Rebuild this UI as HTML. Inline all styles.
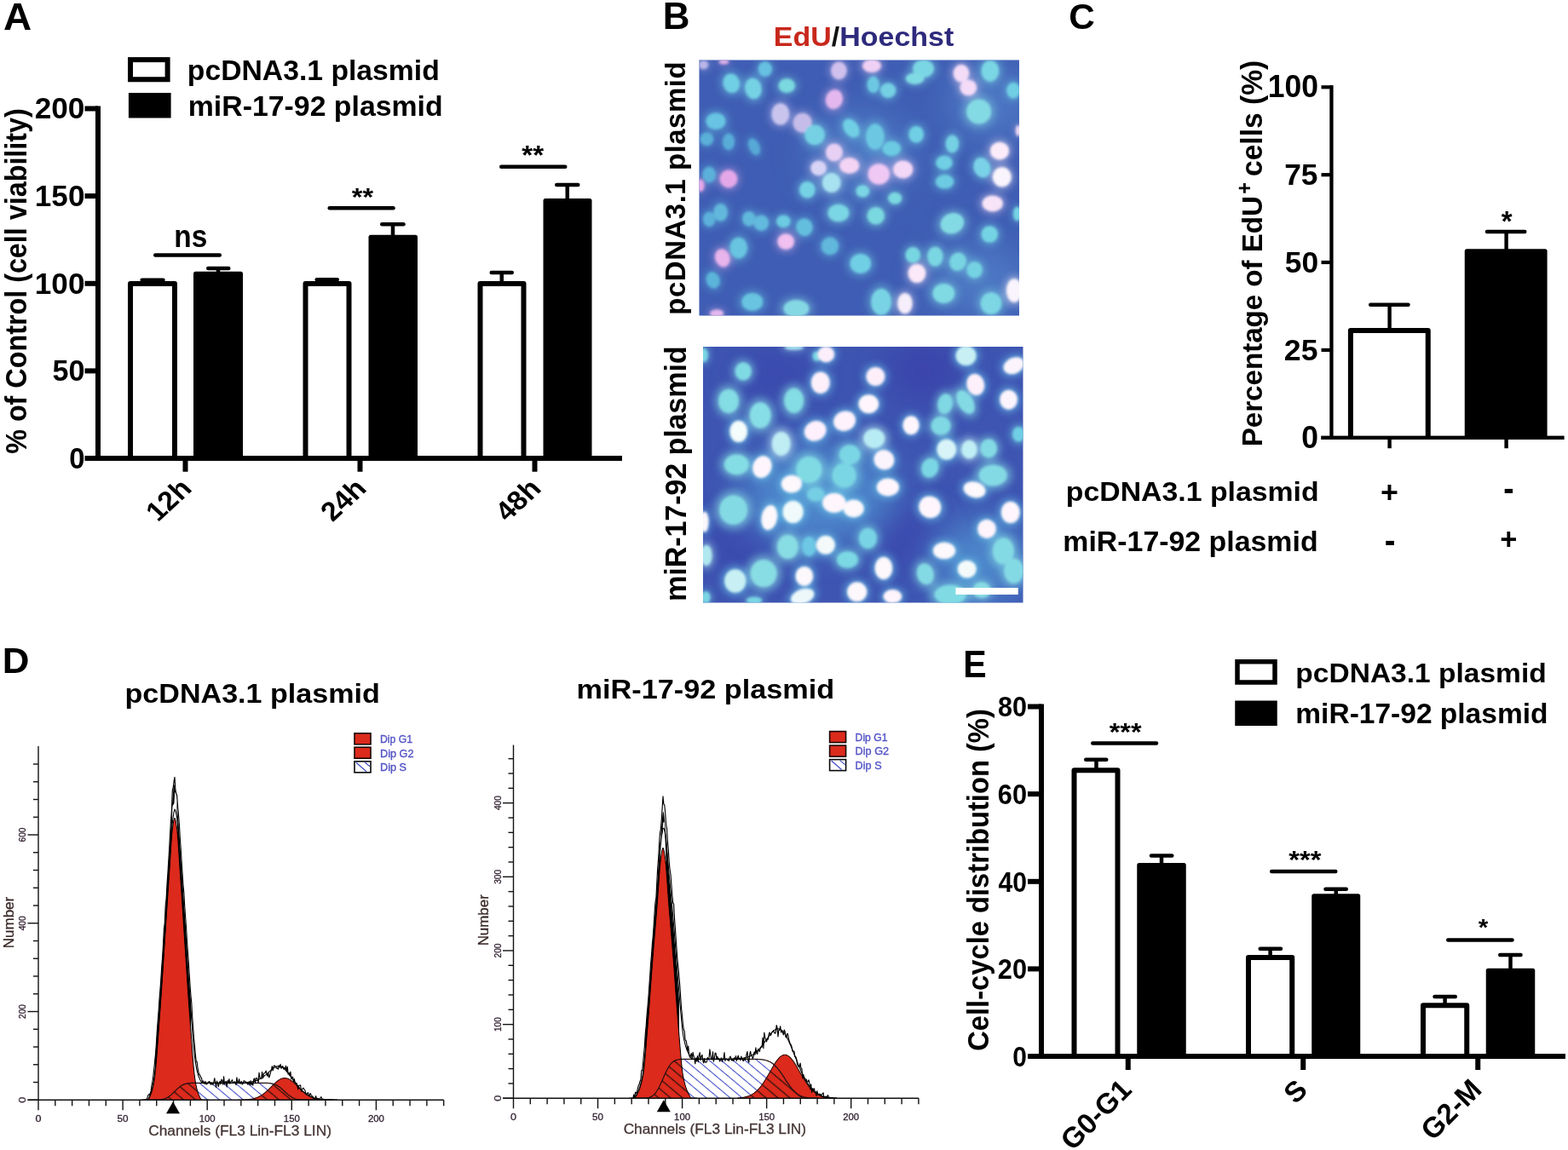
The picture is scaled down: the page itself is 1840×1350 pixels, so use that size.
<!DOCTYPE html>
<html lang="en">
<head>
<meta charset="utf-8">
<title>miR-17-92 plasmid promotes cell viability and proliferation</title>
<style>
html,body{margin:0;padding:0;background:#fff;}
body{width:1840px;height:1350px;overflow:hidden;font-family:"Liberation Sans", sans-serif;}
svg{display:block;}
text{white-space:pre;}
</style>
</head>
<body>
<svg width="1840" height="1350" viewBox="0 0 1840 1350">
<rect x="0" y="0" width="1840" height="1350" fill="#fff"/>
<defs>
<filter id="bl1" x="-50%" y="-50%" width="200%" height="200%"><feGaussianBlur stdDeviation="1.6"/></filter>
<filter id="bl2" x="-50%" y="-50%" width="200%" height="200%"><feGaussianBlur stdDeviation="5"/></filter>
<filter id="bl3" x="-50%" y="-50%" width="200%" height="200%"><feGaussianBlur stdDeviation="22"/></filter>
<clipPath id="cp1"><rect x="820.5" y="70.5" width="375.5" height="300"/></clipPath>
<clipPath id="cp2"><rect x="825" y="407" width="375.5" height="300.5"/></clipPath>
<clipPath id="cS1"><path d="M170.0,1291.2 L170.0,1291.2 L171.0,1291.2 L172.0,1291.2 L173.0,1291.2 L174.0,1291.2 L175.0,1291.2 L176.0,1291.2 L177.0,1291.2 L178.0,1291.2 L179.0,1291.2 L180.0,1291.2 L181.0,1291.2 L182.0,1291.2 L183.0,1291.2 L184.0,1291.2 L185.0,1291.1 L186.0,1291.1 L187.0,1291.0 L188.0,1290.9 L189.0,1290.8 L190.0,1290.6 L191.0,1290.4 L192.0,1290.2 L193.0,1289.9 L194.0,1289.6 L195.0,1289.1 L196.0,1288.6 L197.0,1288.1 L198.0,1287.4 L199.0,1286.7 L200.0,1285.9 L201.0,1285.1 L202.0,1284.2 L203.0,1283.2 L204.0,1282.2 L205.0,1281.2 L206.0,1280.3 L207.0,1279.3 L208.0,1278.3 L209.0,1277.4 L210.0,1276.6 L211.0,1275.8 L212.0,1275.1 L213.0,1274.4 L214.0,1273.9 L215.0,1273.4 L216.0,1272.9 L217.0,1272.6 L218.0,1272.3 L219.0,1272.1 L220.0,1271.9 L221.0,1271.7 L222.0,1271.6 L223.0,1271.5 L224.0,1271.4 L225.0,1271.4 L226.0,1271.3 L227.0,1271.3 L228.0,1271.3 L229.0,1271.3 L230.0,1271.3 L231.0,1271.3 L232.0,1271.3 L233.0,1271.3 L234.0,1271.3 L235.0,1271.3 L236.0,1271.3 L237.0,1271.3 L238.0,1271.3 L239.0,1271.3 L240.0,1271.3 L241.0,1271.3 L242.0,1271.3 L243.0,1271.3 L244.0,1271.3 L245.0,1271.3 L246.0,1271.3 L247.0,1271.3 L248.0,1271.3 L249.0,1271.3 L250.0,1271.3 L251.0,1271.3 L252.0,1271.3 L253.0,1271.3 L254.0,1271.3 L255.0,1271.3 L256.0,1271.3 L257.0,1271.3 L258.0,1271.3 L259.0,1271.3 L260.0,1271.3 L261.0,1271.3 L262.0,1271.3 L263.0,1271.3 L264.0,1271.3 L265.0,1271.3 L266.0,1271.3 L267.0,1271.3 L268.0,1271.2 L269.0,1271.3 L270.0,1271.3 L271.0,1271.3 L272.0,1271.3 L273.0,1271.3 L274.0,1271.3 L275.0,1271.3 L276.0,1271.3 L277.0,1271.3 L278.0,1271.3 L279.0,1271.3 L280.0,1271.3 L281.0,1271.3 L282.0,1271.3 L283.0,1271.3 L284.0,1271.3 L285.0,1271.3 L286.0,1271.3 L287.0,1271.3 L288.0,1271.3 L289.0,1271.3 L290.0,1271.3 L291.0,1271.3 L292.0,1271.3 L293.0,1271.3 L294.0,1271.3 L295.0,1271.3 L296.0,1271.3 L297.0,1271.3 L298.0,1271.3 L299.0,1271.3 L300.0,1271.3 L301.0,1271.3 L302.0,1271.3 L303.0,1271.3 L304.0,1271.3 L305.0,1271.3 L306.0,1271.3 L307.0,1271.3 L308.0,1271.3 L309.0,1271.3 L310.0,1271.3 L311.0,1271.3 L312.0,1271.3 L313.0,1271.4 L314.0,1271.4 L315.0,1271.5 L316.0,1271.6 L317.0,1271.7 L318.0,1271.8 L319.0,1272.0 L320.0,1272.2 L321.0,1272.5 L322.0,1272.8 L323.0,1273.2 L324.0,1273.6 L325.0,1274.1 L326.0,1274.7 L327.0,1275.4 L328.0,1276.1 L329.0,1276.8 L330.0,1277.6 L331.0,1278.5 L332.0,1279.4 L333.0,1280.3 L334.0,1281.2 L335.0,1282.2 L336.0,1283.1 L337.0,1284.0 L338.0,1284.9 L339.0,1285.7 L340.0,1286.4 L341.0,1287.1 L342.0,1287.8 L343.0,1288.4 L344.0,1288.9 L345.0,1289.3 L346.0,1289.7 L347.0,1290.0 L348.0,1290.3 L349.0,1290.5 L350.0,1290.7 L351.0,1290.8 L352.0,1290.9 L353.0,1291.0 L354.0,1291.1 L355.0,1291.1 L356.0,1291.2 L357.0,1291.2 L358.0,1291.2 L359.0,1291.2 L360.0,1291.2 L361.0,1291.2 L362.0,1291.2 L363.0,1291.2 L364.0,1291.2 L365.0,1291.2 L366.0,1291.2 L367.0,1291.2 L368.0,1291.2 L369.0,1291.2 L370.0,1291.2 L371.0,1291.2 L372.0,1291.2 L373.0,1291.2 L374.0,1291.2 L374.0,1291.2 Z"/></clipPath>
<clipPath id="cR1"><path d="M165.0,1291.2 L165.0,1291.2 L166.0,1291.2 L167.0,1291.2 L168.0,1291.2 L169.0,1291.2 L170.0,1291.2 L171.0,1291.2 L172.0,1291.2 L173.0,1291.2 L174.0,1290.7 L175.0,1289.1 L176.0,1287.0 L177.0,1284.6 L178.0,1281.9 L179.0,1278.2 L180.0,1273.7 L181.0,1268.1 L182.0,1260.5 L183.0,1250.5 L184.0,1238.5 L185.0,1225.3 L186.0,1211.5 L187.0,1197.5 L188.0,1184.0 L189.0,1170.0 L190.0,1155.3 L191.0,1140.2 L192.0,1124.8 L193.0,1109.4 L194.0,1094.1 L195.0,1079.0 L196.0,1063.8 L197.0,1048.6 L198.0,1033.7 L199.0,1019.0 L200.0,1003.2 L201.0,988.1 L202.0,976.0 L203.0,968.4 L204.0,962.7 L205.0,960.2 L206.0,962.7 L207.0,968.4 L208.0,976.0 L209.0,988.1 L210.0,1003.2 L211.0,1019.0 L212.0,1033.7 L213.0,1048.6 L214.0,1063.8 L215.0,1079.0 L216.0,1094.1 L217.0,1109.4 L218.0,1124.8 L219.0,1140.2 L220.0,1155.3 L221.0,1170.0 L222.0,1184.0 L223.0,1197.5 L224.0,1211.5 L225.0,1225.3 L226.0,1238.5 L227.0,1250.5 L228.0,1260.5 L229.0,1268.1 L230.0,1273.7 L231.0,1278.2 L232.0,1281.9 L233.0,1284.6 L234.0,1287.0 L235.0,1289.1 L236.0,1290.7 L237.0,1291.2 L238.0,1291.2 L239.0,1291.2 L240.0,1291.2 L241.0,1291.2 L242.0,1291.2 L243.0,1291.2 L244.0,1291.2 L245.0,1291.2 L245.0,1291.2 Z"/><path d="M279.0,1291.2 L279.0,1291.2 L280.0,1291.2 L281.0,1291.2 L282.0,1291.2 L283.0,1291.1 L284.0,1291.1 L285.0,1291.1 L286.0,1291.0 L287.0,1291.0 L288.0,1290.9 L289.0,1290.9 L290.0,1290.8 L291.0,1290.7 L292.0,1290.6 L293.0,1290.5 L294.0,1290.3 L295.0,1290.2 L296.0,1290.0 L297.0,1289.8 L298.0,1289.5 L299.0,1289.2 L300.0,1288.9 L301.0,1288.6 L302.0,1288.2 L303.0,1287.8 L304.0,1287.3 L305.0,1286.8 L306.0,1286.2 L307.0,1285.6 L308.0,1284.9 L309.0,1284.2 L310.0,1283.5 L311.0,1282.7 L312.0,1281.8 L313.0,1281.0 L314.0,1280.0 L315.0,1279.1 L316.0,1278.1 L317.0,1277.1 L318.0,1276.1 L319.0,1275.1 L320.0,1274.1 L321.0,1273.1 L322.0,1272.2 L323.0,1271.2 L324.0,1270.3 L325.0,1269.5 L326.0,1268.7 L327.0,1268.0 L328.0,1267.4 L329.0,1266.8 L330.0,1266.3 L331.0,1266.0 L332.0,1265.7 L333.0,1265.6 L334.0,1265.5 L335.0,1265.6 L336.0,1265.7 L337.0,1266.0 L338.0,1266.3 L339.0,1266.8 L340.0,1267.4 L341.0,1268.0 L342.0,1268.7 L343.0,1269.5 L344.0,1270.3 L345.0,1271.2 L346.0,1272.2 L347.0,1273.1 L348.0,1274.1 L349.0,1275.1 L350.0,1276.1 L351.0,1277.1 L352.0,1278.1 L353.0,1279.1 L354.0,1280.0 L355.0,1281.0 L356.0,1281.8 L357.0,1282.7 L358.0,1283.5 L359.0,1284.2 L360.0,1284.9 L361.0,1285.6 L362.0,1286.2 L363.0,1286.8 L364.0,1287.3 L365.0,1287.8 L366.0,1288.2 L367.0,1288.6 L368.0,1288.9 L369.0,1289.2 L370.0,1289.5 L371.0,1289.8 L372.0,1290.0 L373.0,1290.2 L374.0,1290.3 L375.0,1290.5 L376.0,1290.6 L377.0,1290.7 L378.0,1290.8 L379.0,1290.9 L380.0,1290.9 L381.0,1291.0 L382.0,1291.0 L383.0,1291.1 L384.0,1291.1 L385.0,1291.1 L386.0,1291.2 L387.0,1291.2 L388.0,1291.2 L389.0,1291.2 L389.0,1291.2 Z"/></clipPath>
<pattern id="hb1" width="9" height="9" patternUnits="userSpaceOnUse" patternTransform="rotate(40)"><line x1="0" y1="4.5" x2="9" y2="4.5" stroke="#4450c8" stroke-width="1.1"/></pattern>
<pattern id="hk1" width="9" height="9" patternUnits="userSpaceOnUse" patternTransform="rotate(40)"><line x1="0" y1="4.5" x2="9" y2="4.5" stroke="#30100c" stroke-width="1.3"/></pattern>
<clipPath id="cE1"><rect x="160" y="876" width="64.0" height="372.2"/></clipPath>
<clipPath id="cS2"><path d="M743.0,1289.2 L743.0,1289.2 L744.0,1289.2 L745.0,1289.2 L746.0,1289.2 L747.0,1289.2 L748.0,1289.2 L749.0,1289.2 L750.0,1289.2 L751.0,1289.2 L752.0,1289.2 L753.0,1289.2 L754.0,1289.2 L755.0,1289.2 L756.0,1289.1 L757.0,1289.1 L758.0,1289.0 L759.0,1288.8 L760.0,1288.7 L761.0,1288.5 L762.0,1288.2 L763.0,1287.9 L764.0,1287.4 L765.0,1286.9 L766.0,1286.2 L767.0,1285.4 L768.0,1284.4 L769.0,1283.3 L770.0,1282.0 L771.0,1280.5 L772.0,1278.8 L773.0,1277.0 L774.0,1275.1 L775.0,1273.0 L776.0,1270.8 L777.0,1268.5 L778.0,1266.2 L779.0,1264.0 L780.0,1261.7 L781.0,1259.5 L782.0,1257.4 L783.0,1255.5 L784.0,1253.7 L785.0,1252.0 L786.0,1250.5 L787.0,1249.2 L788.0,1248.1 L789.0,1247.1 L790.0,1246.3 L791.0,1245.6 L792.0,1245.1 L793.0,1244.6 L794.0,1244.3 L795.0,1244.0 L796.0,1243.8 L797.0,1243.7 L798.0,1243.5 L799.0,1243.4 L800.0,1243.4 L801.0,1243.3 L802.0,1243.3 L803.0,1243.3 L804.0,1243.3 L805.0,1243.3 L806.0,1243.3 L807.0,1243.3 L808.0,1243.3 L809.0,1243.3 L810.0,1243.3 L811.0,1243.3 L812.0,1243.3 L813.0,1243.3 L814.0,1243.3 L815.0,1243.3 L816.0,1243.3 L817.0,1243.3 L818.0,1243.3 L819.0,1243.3 L820.0,1243.3 L821.0,1243.3 L822.0,1243.3 L823.0,1243.3 L824.0,1243.3 L825.0,1243.3 L826.0,1243.3 L827.0,1243.3 L828.0,1243.3 L829.0,1243.3 L830.0,1243.3 L831.0,1243.3 L832.0,1243.3 L833.0,1243.3 L834.0,1243.3 L835.0,1243.3 L836.0,1243.3 L837.0,1243.3 L838.0,1243.3 L839.0,1243.3 L840.0,1243.3 L841.0,1243.3 L842.0,1243.3 L843.0,1243.3 L844.0,1243.3 L845.0,1243.3 L846.0,1243.3 L847.0,1243.3 L848.0,1243.3 L849.0,1243.3 L850.0,1243.3 L851.0,1243.3 L852.0,1243.3 L853.0,1243.3 L854.0,1243.3 L855.0,1243.3 L856.0,1243.3 L857.0,1243.3 L858.0,1243.3 L859.0,1243.3 L860.0,1243.3 L861.0,1243.3 L862.0,1243.3 L863.0,1243.3 L864.0,1243.3 L865.0,1243.3 L866.0,1243.3 L867.0,1243.3 L868.0,1243.3 L869.0,1243.3 L870.0,1243.3 L871.0,1243.3 L872.0,1243.3 L873.0,1243.3 L874.0,1243.3 L875.0,1243.3 L876.0,1243.3 L877.0,1243.3 L878.0,1243.3 L879.0,1243.3 L880.0,1243.3 L881.0,1243.3 L882.0,1243.3 L883.0,1243.3 L884.0,1243.3 L885.0,1243.3 L886.0,1243.3 L887.0,1243.4 L888.0,1243.4 L889.0,1243.4 L890.0,1243.5 L891.0,1243.5 L892.0,1243.6 L893.0,1243.7 L894.0,1243.8 L895.0,1243.9 L896.0,1244.1 L897.0,1244.3 L898.0,1244.5 L899.0,1244.8 L900.0,1245.1 L901.0,1245.4 L902.0,1245.9 L903.0,1246.3 L904.0,1246.8 L905.0,1247.4 L906.0,1248.1 L907.0,1248.8 L908.0,1249.7 L909.0,1250.5 L910.0,1251.5 L911.0,1252.6 L912.0,1253.7 L913.0,1254.9 L914.0,1256.1 L915.0,1257.4 L916.0,1258.8 L917.0,1260.2 L918.0,1261.7 L919.0,1263.2 L920.0,1264.7 L921.0,1266.2 L922.0,1267.8 L923.0,1269.3 L924.0,1270.8 L925.0,1272.3 L926.0,1273.7 L927.0,1275.1 L928.0,1276.4 L929.0,1277.6 L930.0,1278.8 L931.0,1279.9 L932.0,1281.0 L933.0,1282.0 L934.0,1282.8 L935.0,1283.7 L936.0,1284.4 L937.0,1285.1 L938.0,1285.7 L939.0,1286.2 L940.0,1286.6 L941.0,1287.1 L942.0,1287.4 L943.0,1287.7 L944.0,1288.0 L945.0,1288.2 L946.0,1288.4 L947.0,1288.6 L948.0,1288.7 L949.0,1288.8 L950.0,1288.9 L951.0,1289.0 L952.0,1289.0 L953.0,1289.1 L954.0,1289.1 L955.0,1289.1 L956.0,1289.2 L957.0,1289.2 L958.0,1289.2 L959.0,1289.2 L960.0,1289.2 L961.0,1289.2 L961.0,1289.2 Z"/></clipPath>
<clipPath id="cR2"><path d="M738.0,1289.2 L738.0,1289.2 L739.0,1289.2 L740.0,1289.2 L741.0,1289.2 L742.0,1289.2 L743.0,1289.2 L744.0,1289.2 L745.0,1288.8 L746.0,1287.7 L747.0,1286.0 L748.0,1284.0 L749.0,1281.9 L750.0,1279.6 L751.0,1276.9 L752.0,1273.7 L753.0,1269.8 L754.0,1265.3 L755.0,1259.7 L756.0,1251.4 L757.0,1240.8 L758.0,1228.8 L759.0,1216.3 L760.0,1204.0 L761.0,1191.7 L762.0,1178.5 L763.0,1164.9 L764.0,1151.2 L765.0,1137.6 L766.0,1124.6 L767.0,1112.2 L768.0,1100.1 L769.0,1088.2 L770.0,1076.3 L771.0,1064.1 L772.0,1050.8 L773.0,1036.2 L774.0,1022.4 L775.0,1011.1 L776.0,1003.6 L777.0,997.7 L778.0,995.2 L779.0,997.7 L780.0,1003.6 L781.0,1011.1 L782.0,1022.4 L783.0,1036.2 L784.0,1050.8 L785.0,1064.1 L786.0,1076.3 L787.0,1088.2 L788.0,1100.1 L789.0,1112.2 L790.0,1124.6 L791.0,1137.6 L792.0,1151.2 L793.0,1164.9 L794.0,1178.5 L795.0,1191.7 L796.0,1204.0 L797.0,1216.3 L798.0,1228.8 L799.0,1240.8 L800.0,1251.4 L801.0,1259.7 L802.0,1265.3 L803.0,1269.8 L804.0,1273.7 L805.0,1276.9 L806.0,1279.6 L807.0,1281.9 L808.0,1284.0 L809.0,1286.0 L810.0,1287.7 L811.0,1288.8 L812.0,1289.2 L813.0,1289.2 L814.0,1289.2 L815.0,1289.2 L816.0,1289.2 L817.0,1289.2 L818.0,1289.2 L818.0,1289.2 Z"/><path d="M866.0,1289.2 L866.0,1288.9 L867.0,1288.8 L868.0,1288.7 L869.0,1288.6 L870.0,1288.5 L871.0,1288.4 L872.0,1288.2 L873.0,1288.1 L874.0,1287.9 L875.0,1287.6 L876.0,1287.4 L877.0,1287.1 L878.0,1286.8 L879.0,1286.4 L880.0,1286.0 L881.0,1285.5 L882.0,1285.0 L883.0,1284.4 L884.0,1283.8 L885.0,1283.1 L886.0,1282.3 L887.0,1281.5 L888.0,1280.6 L889.0,1279.7 L890.0,1278.6 L891.0,1277.5 L892.0,1276.3 L893.0,1275.1 L894.0,1273.7 L895.0,1272.3 L896.0,1270.9 L897.0,1269.3 L898.0,1267.7 L899.0,1266.1 L900.0,1264.4 L901.0,1262.7 L902.0,1261.0 L903.0,1259.2 L904.0,1257.4 L905.0,1255.7 L906.0,1253.9 L907.0,1252.2 L908.0,1250.5 L909.0,1248.9 L910.0,1247.4 L911.0,1245.9 L912.0,1244.6 L913.0,1243.3 L914.0,1242.2 L915.0,1241.2 L916.0,1240.3 L917.0,1239.6 L918.0,1239.0 L919.0,1238.6 L920.0,1238.3 L921.0,1238.2 L922.0,1238.3 L923.0,1238.6 L924.0,1239.0 L925.0,1239.6 L926.0,1240.3 L927.0,1241.2 L928.0,1242.2 L929.0,1243.3 L930.0,1244.6 L931.0,1245.9 L932.0,1247.4 L933.0,1248.9 L934.0,1250.5 L935.0,1252.2 L936.0,1253.9 L937.0,1255.7 L938.0,1257.4 L939.0,1259.2 L940.0,1261.0 L941.0,1262.7 L942.0,1264.4 L943.0,1266.1 L944.0,1267.7 L945.0,1269.3 L946.0,1270.9 L947.0,1272.3 L948.0,1273.7 L949.0,1275.1 L950.0,1276.3 L951.0,1277.5 L952.0,1278.6 L953.0,1279.7 L954.0,1280.6 L955.0,1281.5 L956.0,1282.3 L957.0,1283.1 L958.0,1283.8 L959.0,1284.4 L960.0,1285.0 L961.0,1285.5 L962.0,1286.0 L963.0,1286.4 L964.0,1286.8 L965.0,1287.1 L966.0,1287.4 L967.0,1287.6 L968.0,1287.9 L969.0,1288.1 L970.0,1288.2 L971.0,1288.4 L972.0,1288.5 L973.0,1288.6 L974.0,1288.7 L975.0,1288.8 L976.0,1288.9 L976.0,1289.2 Z"/></clipPath>
<pattern id="hb2" width="9" height="9" patternUnits="userSpaceOnUse" patternTransform="rotate(40)"><line x1="0" y1="4.5" x2="9" y2="4.5" stroke="#4450c8" stroke-width="1.1"/></pattern>
<pattern id="hk2" width="9" height="9" patternUnits="userSpaceOnUse" patternTransform="rotate(40)"><line x1="0" y1="4.5" x2="9" y2="4.5" stroke="#30100c" stroke-width="1.3"/></pattern>
<clipPath id="cE2"><rect x="733" y="874.5" width="64.0" height="354.8"/></clipPath>
</defs>
<g id="panelB">
<g clip-path="url(#cp1)">
<rect x="815" y="65" width="390" height="312" fill="#3f5db4"/>
<g filter="url(#bl3)" opacity="0.55"><ellipse cx="1010" cy="180" rx="60" ry="50" fill="#5a8fd0"/><ellipse cx="1150" cy="330" rx="60" ry="45" fill="#5a8fd0"/><ellipse cx="1160" cy="120" rx="50" ry="45" fill="#5a8fd0"/></g>
<g filter="url(#bl2)" opacity="0.45"><ellipse cx="825.6" cy="76.1" rx="7.6" ry="6.9" fill="#b9b6e8"/><ellipse cx="849.4" cy="72.8" rx="7.6" ry="3.5" fill="#e0b0e8"/><ellipse cx="897.8" cy="81.1" rx="11.1" ry="11.8" fill="#66c0e0"/><ellipse cx="858.3" cy="97.8" rx="13.2" ry="15.3" fill="#70cfe4" transform="rotate(-15 858.3 97.8)"/><ellipse cx="883.9" cy="103.9" rx="13.2" ry="16.7" fill="#74d2e4" transform="rotate(-10 883.9 103.9)"/><ellipse cx="923.3" cy="100.6" rx="13.2" ry="11.1" fill="#7ad8e0"/><ellipse cx="984.4" cy="82.8" rx="11.8" ry="13.2" fill="#d0c0ee"/><ellipse cx="978.9" cy="116.7" rx="12.5" ry="14.6" fill="#e4b8ee" transform="rotate(15 978.9 116.7)"/><ellipse cx="915.8" cy="133.9" rx="13.2" ry="16.0" fill="#c8c4ee"/><ellipse cx="941.7" cy="144.2" rx="13.9" ry="14.6" fill="#c6bcea"/><ellipse cx="956.1" cy="158.3" rx="16.0" ry="16.0" fill="#74d0e4"/><ellipse cx="840.0" cy="142.2" rx="15.3" ry="13.2" fill="#68c4e2"/><ellipse cx="998.9" cy="150.6" rx="11.1" ry="16.0" fill="#70cfe4" transform="rotate(-35 998.9 150.6)"/><ellipse cx="829.4" cy="163.3" rx="10.4" ry="10.4" fill="#5ab0d8"/><ellipse cx="855.0" cy="166.4" rx="9.4" ry="13.2" fill="#58acd8"/><ellipse cx="885.0" cy="172.2" rx="8.3" ry="13.9" fill="#56a8d6" transform="rotate(-25 885.0 172.2)"/><ellipse cx="978.9" cy="178.9" rx="12.5" ry="13.2" fill="#e8d0f4"/><ellipse cx="960.6" cy="197.2" rx="11.8" ry="11.1" fill="#d8d4f6"/><ellipse cx="996.7" cy="194.4" rx="14.6" ry="11.8" fill="#f4d4f4"/><ellipse cx="832.2" cy="205.0" rx="10.4" ry="12.5" fill="#5cb0da"/><ellipse cx="855.0" cy="210.0" rx="13.2" ry="13.2" fill="#e4a8e8"/><ellipse cx="822.2" cy="217.8" rx="5.6" ry="9.0" fill="#e4a8e8"/><ellipse cx="1023.0" cy="77.2" rx="13.9" ry="9.7" fill="#f0d0f4"/><ellipse cx="1083.6" cy="80.6" rx="16.7" ry="13.9" fill="#7ad6e4"/><ellipse cx="1073.6" cy="92.2" rx="14.6" ry="9.0" fill="#80dae4"/><ellipse cx="1024.7" cy="99.4" rx="9.7" ry="13.2" fill="#6cc8e2"/><ellipse cx="1042.2" cy="106.1" rx="12.5" ry="11.8" fill="#74d0e4"/><ellipse cx="1128.0" cy="86.1" rx="11.8" ry="13.2" fill="#f4dcf8"/><ellipse cx="1136.3" cy="102.8" rx="12.5" ry="11.8" fill="#f4dcf8"/><ellipse cx="1161.9" cy="83.3" rx="13.9" ry="16.7" fill="#7ad6e4"/><ellipse cx="1189.1" cy="106.1" rx="10.4" ry="12.5" fill="#70cfe4"/><ellipse cx="1148.6" cy="131.1" rx="19.4" ry="19.4" fill="#84dae4"/><ellipse cx="1026.9" cy="160.6" rx="14.6" ry="20.1" fill="#6cc8e2"/><ellipse cx="1075.2" cy="157.8" rx="11.8" ry="13.2" fill="#70cfe4"/><ellipse cx="1046.3" cy="174.4" rx="14.6" ry="11.8" fill="#6ccae2"/><ellipse cx="1117.4" cy="168.9" rx="10.4" ry="13.9" fill="#74d0e4"/><ellipse cx="1108.0" cy="191.1" rx="13.2" ry="11.1" fill="#70cfe4"/><ellipse cx="1173.0" cy="177.2" rx="13.9" ry="13.2" fill="#fcecfa"/><ellipse cx="1152.4" cy="196.7" rx="13.2" ry="16.0" fill="#7ad2e8" transform="rotate(-20 1152.4 196.7)"/><ellipse cx="1031.3" cy="204.4" rx="16.0" ry="15.3" fill="#f0c8f4"/><ellipse cx="1059.7" cy="198.9" rx="14.6" ry="13.2" fill="#f4d8f8"/><ellipse cx="1108.6" cy="213.3" rx="14.6" ry="11.1" fill="#6ccae2"/><ellipse cx="1175.8" cy="207.8" rx="13.9" ry="14.6" fill="#faf4fc"/><ellipse cx="1194.7" cy="153.3" rx="3.5" ry="8.3" fill="#f4dcf8"/><ellipse cx="947.3" cy="222.8" rx="12.5" ry="13.2" fill="#74d2e4"/><ellipse cx="975.7" cy="214.4" rx="14.6" ry="15.3" fill="#a8e2f0"/><ellipse cx="845.6" cy="249.4" rx="11.1" ry="13.9" fill="#62b8dc"/><ellipse cx="832.2" cy="257.2" rx="9.7" ry="11.8" fill="#5cb0da"/><ellipse cx="878.9" cy="256.7" rx="10.4" ry="11.8" fill="#60b8dc"/><ellipse cx="893.3" cy="261.7" rx="11.8" ry="12.5" fill="#62bade"/><ellipse cx="919.4" cy="259.8" rx="11.1" ry="10.0" fill="#6ccae2"/><ellipse cx="943.9" cy="266.7" rx="13.2" ry="13.9" fill="#64bede" transform="rotate(-20 943.9 266.7)"/><ellipse cx="983.9" cy="250.0" rx="16.7" ry="13.9" fill="#7ad6e4"/><ellipse cx="866.7" cy="291.1" rx="13.9" ry="16.7" fill="#68c4e0"/><ellipse cx="847.8" cy="302.8" rx="10.8" ry="13.6" fill="#e8b4ec" transform="rotate(-20 847.8 302.8)"/><ellipse cx="922.2" cy="283.6" rx="12.5" ry="11.8" fill="#f0c0f0"/><ellipse cx="973.9" cy="288.9" rx="13.9" ry="13.9" fill="#60b8dc" transform="rotate(-20 973.9 288.9)"/><ellipse cx="836.7" cy="328.9" rx="10.4" ry="13.2" fill="#5cb4da" transform="rotate(-20 836.7 328.9)"/><ellipse cx="882.8" cy="354.4" rx="16.7" ry="13.9" fill="#68c4e0"/><ellipse cx="934.4" cy="362.2" rx="20.1" ry="13.9" fill="#84d8e4"/><ellipse cx="841.1" cy="367.8" rx="10.4" ry="5.6" fill="#e4b8ee"/><ellipse cx="1012.4" cy="224.4" rx="10.4" ry="9.7" fill="#7ad6e4"/><ellipse cx="1050.2" cy="232.8" rx="10.8" ry="9.4" fill="#7ad8e0"/><ellipse cx="1027.8" cy="253.3" rx="13.9" ry="13.9" fill="#7ad8e0"/><ellipse cx="1117.4" cy="262.2" rx="18.8" ry="16.0" fill="#84dae4" transform="rotate(-20 1117.4 262.2)"/><ellipse cx="1164.7" cy="238.9" rx="15.3" ry="11.8" fill="#f8e4f8"/><ellipse cx="1161.3" cy="275.0" rx="13.2" ry="13.2" fill="#74d4e4"/><ellipse cx="1193.6" cy="251.1" rx="6.2" ry="11.1" fill="#74d4e4"/><ellipse cx="1071.3" cy="299.4" rx="11.8" ry="12.5" fill="#78d6e2"/><ellipse cx="1097.4" cy="301.1" rx="12.5" ry="15.3" fill="#7ad6e2"/><ellipse cx="1124.1" cy="307.2" rx="13.2" ry="14.6" fill="#78d4e2" transform="rotate(25 1124.1 307.2)"/><ellipse cx="1143.6" cy="316.7" rx="12.5" ry="13.2" fill="#74d2e2"/><ellipse cx="1009.8" cy="309.4" rx="16.5" ry="15.3" fill="#70cfe4"/><ellipse cx="1076.0" cy="320.9" rx="13.2" ry="13.9" fill="#fbe8f8"/><ellipse cx="1107.4" cy="344.4" rx="17.4" ry="15.3" fill="#80dae4"/><ellipse cx="1034.1" cy="354.4" rx="16.0" ry="20.8" fill="#78d4e4"/><ellipse cx="1061.9" cy="356.1" rx="11.1" ry="15.3" fill="#f6eefa"/><ellipse cx="1163.0" cy="356.1" rx="16.7" ry="17.4" fill="#7cd6e4"/><ellipse cx="1190.2" cy="341.1" rx="11.8" ry="17.4" fill="#faf4fc"/></g>
<g filter="url(#bl1)"><ellipse cx="825.6" cy="76.1" rx="5.7" ry="5.2" fill="#b9b6e8"/><ellipse cx="849.4" cy="72.8" rx="6.0" ry="2.8" fill="#e0b0e8"/><ellipse cx="897.8" cy="81.1" rx="8.3" ry="8.8" fill="#66c0e0"/><ellipse cx="858.3" cy="97.8" rx="9.8" ry="11.4" fill="#70cfe4" transform="rotate(-15 858.3 97.8)"/><ellipse cx="883.9" cy="103.9" rx="9.8" ry="12.4" fill="#74d2e4" transform="rotate(-10 883.9 103.9)"/><ellipse cx="923.3" cy="100.6" rx="9.8" ry="8.3" fill="#7ad8e0"/><ellipse cx="984.4" cy="82.8" rx="9.3" ry="10.4" fill="#d0c0ee"/><ellipse cx="978.9" cy="116.7" rx="9.9" ry="11.5" fill="#e4b8ee" transform="rotate(15 978.9 116.7)"/><ellipse cx="915.8" cy="133.9" rx="10.4" ry="12.7" fill="#c8c4ee"/><ellipse cx="941.7" cy="144.2" rx="11.0" ry="11.5" fill="#c6bcea"/><ellipse cx="956.1" cy="158.3" rx="11.9" ry="11.9" fill="#74d0e4"/><ellipse cx="840.0" cy="142.2" rx="11.4" ry="9.8" fill="#68c4e2"/><ellipse cx="998.9" cy="150.6" rx="8.3" ry="11.9" fill="#70cfe4" transform="rotate(-35 998.9 150.6)"/><ellipse cx="829.4" cy="163.3" rx="7.8" ry="7.8" fill="#5ab0d8"/><ellipse cx="855.0" cy="166.4" rx="7.0" ry="9.8" fill="#58acd8"/><ellipse cx="885.0" cy="172.2" rx="6.2" ry="10.3" fill="#56a8d6" transform="rotate(-25 885.0 172.2)"/><ellipse cx="978.9" cy="178.9" rx="9.9" ry="10.4" fill="#e8d0f4"/><ellipse cx="960.6" cy="197.2" rx="9.3" ry="8.8" fill="#d8d4f6"/><ellipse cx="996.7" cy="194.4" rx="11.5" ry="9.3" fill="#f4d4f4"/><ellipse cx="832.2" cy="205.0" rx="7.8" ry="9.3" fill="#5cb0da"/><ellipse cx="855.0" cy="210.0" rx="10.4" ry="10.4" fill="#e4a8e8"/><ellipse cx="822.2" cy="217.8" rx="4.4" ry="7.2" fill="#e4a8e8"/><ellipse cx="1023.0" cy="77.2" rx="11.0" ry="7.7" fill="#f0d0f4"/><ellipse cx="1083.6" cy="80.6" rx="12.4" ry="10.3" fill="#7ad6e4"/><ellipse cx="1073.6" cy="92.2" rx="10.8" ry="6.7" fill="#80dae4"/><ellipse cx="1024.7" cy="99.4" rx="7.2" ry="9.8" fill="#6cc8e2"/><ellipse cx="1042.2" cy="106.1" rx="9.3" ry="8.8" fill="#74d0e4"/><ellipse cx="1128.0" cy="86.1" rx="9.3" ry="10.4" fill="#f4dcf8"/><ellipse cx="1136.3" cy="102.8" rx="9.9" ry="9.3" fill="#f4dcf8"/><ellipse cx="1161.9" cy="83.3" rx="10.3" ry="12.4" fill="#7ad6e4"/><ellipse cx="1189.1" cy="106.1" rx="7.8" ry="9.3" fill="#70cfe4"/><ellipse cx="1148.6" cy="131.1" rx="14.5" ry="14.5" fill="#84dae4"/><ellipse cx="1026.9" cy="160.6" rx="10.8" ry="15.0" fill="#6cc8e2"/><ellipse cx="1075.2" cy="157.8" rx="8.8" ry="9.8" fill="#70cfe4"/><ellipse cx="1046.3" cy="174.4" rx="10.8" ry="8.8" fill="#6ccae2"/><ellipse cx="1117.4" cy="168.9" rx="7.8" ry="10.3" fill="#74d0e4"/><ellipse cx="1108.0" cy="191.1" rx="9.8" ry="8.3" fill="#70cfe4"/><ellipse cx="1173.0" cy="177.2" rx="11.0" ry="10.4" fill="#fcecfa"/><ellipse cx="1152.4" cy="196.7" rx="9.8" ry="11.9" fill="#7ad2e8" transform="rotate(-20 1152.4 196.7)"/><ellipse cx="1031.3" cy="204.4" rx="12.7" ry="12.1" fill="#f0c8f4"/><ellipse cx="1059.7" cy="198.9" rx="11.5" ry="10.4" fill="#f4d8f8"/><ellipse cx="1108.6" cy="213.3" rx="10.8" ry="8.3" fill="#6ccae2"/><ellipse cx="1175.8" cy="207.8" rx="11.0" ry="11.5" fill="#faf4fc"/><ellipse cx="1194.7" cy="153.3" rx="2.8" ry="6.6" fill="#f4dcf8"/><ellipse cx="947.3" cy="222.8" rx="9.3" ry="9.8" fill="#74d2e4"/><ellipse cx="975.7" cy="214.4" rx="10.8" ry="11.4" fill="#a8e2f0"/><ellipse cx="845.6" cy="249.4" rx="8.3" ry="10.3" fill="#62b8dc"/><ellipse cx="832.2" cy="257.2" rx="7.2" ry="8.8" fill="#5cb0da"/><ellipse cx="878.9" cy="256.7" rx="7.8" ry="8.8" fill="#60b8dc"/><ellipse cx="893.3" cy="261.7" rx="8.8" ry="9.3" fill="#62bade"/><ellipse cx="919.4" cy="259.8" rx="8.3" ry="7.4" fill="#6ccae2"/><ellipse cx="943.9" cy="266.7" rx="9.8" ry="10.3" fill="#64bede" transform="rotate(-20 943.9 266.7)"/><ellipse cx="983.9" cy="250.0" rx="12.4" ry="10.3" fill="#7ad6e4"/><ellipse cx="866.7" cy="291.1" rx="10.3" ry="12.4" fill="#68c4e0"/><ellipse cx="847.8" cy="302.8" rx="8.6" ry="10.8" fill="#e8b4ec" transform="rotate(-20 847.8 302.8)"/><ellipse cx="922.2" cy="283.6" rx="9.9" ry="9.3" fill="#f0c0f0"/><ellipse cx="973.9" cy="288.9" rx="10.3" ry="10.3" fill="#60b8dc" transform="rotate(-20 973.9 288.9)"/><ellipse cx="836.7" cy="328.9" rx="7.8" ry="9.8" fill="#5cb4da" transform="rotate(-20 836.7 328.9)"/><ellipse cx="882.8" cy="354.4" rx="12.4" ry="10.3" fill="#68c4e0"/><ellipse cx="934.4" cy="362.2" rx="15.0" ry="10.3" fill="#84d8e4"/><ellipse cx="841.1" cy="367.8" rx="8.2" ry="4.4" fill="#e4b8ee"/><ellipse cx="1012.4" cy="224.4" rx="7.8" ry="7.2" fill="#7ad6e4"/><ellipse cx="1050.2" cy="232.8" rx="8.1" ry="7.0" fill="#7ad8e0"/><ellipse cx="1027.8" cy="253.3" rx="10.3" ry="10.3" fill="#7ad8e0"/><ellipse cx="1117.4" cy="262.2" rx="14.0" ry="11.9" fill="#84dae4" transform="rotate(-20 1117.4 262.2)"/><ellipse cx="1164.7" cy="238.9" rx="12.1" ry="9.3" fill="#f8e4f8"/><ellipse cx="1161.3" cy="275.0" rx="9.8" ry="9.8" fill="#74d4e4"/><ellipse cx="1193.6" cy="251.1" rx="4.7" ry="8.3" fill="#74d4e4"/><ellipse cx="1071.3" cy="299.4" rx="8.8" ry="9.3" fill="#78d6e2"/><ellipse cx="1097.4" cy="301.1" rx="9.3" ry="11.4" fill="#7ad6e2"/><ellipse cx="1124.1" cy="307.2" rx="9.8" ry="10.8" fill="#78d4e2" transform="rotate(25 1124.1 307.2)"/><ellipse cx="1143.6" cy="316.7" rx="9.3" ry="9.8" fill="#74d2e2"/><ellipse cx="1009.8" cy="309.4" rx="12.3" ry="11.4" fill="#70cfe4"/><ellipse cx="1076.0" cy="320.9" rx="10.4" ry="11.0" fill="#fbe8f8"/><ellipse cx="1107.4" cy="344.4" rx="12.9" ry="11.4" fill="#80dae4"/><ellipse cx="1034.1" cy="354.4" rx="11.9" ry="15.5" fill="#78d4e4"/><ellipse cx="1061.9" cy="356.1" rx="8.8" ry="12.1" fill="#f6eefa"/><ellipse cx="1163.0" cy="356.1" rx="12.4" ry="12.9" fill="#7cd6e4"/><ellipse cx="1190.2" cy="341.1" rx="9.3" ry="13.8" fill="#faf4fc"/></g>
</g>
<g clip-path="url(#cp2)">
<rect x="820" y="402" width="390" height="312" fill="#3e55b2"/>
<g filter="url(#bl3)" opacity="0.8"><ellipse cx="1085" cy="435" rx="45" ry="40" fill="#3a3fa8"/><ellipse cx="1065" cy="630" rx="40" ry="35" fill="#3a42aa"/><ellipse cx="870" cy="640" rx="40" ry="25" fill="#3a45ac"/><ellipse cx="910" cy="440" rx="45" ry="25" fill="#3a45ac"/></g>
<g filter="url(#bl3)" opacity="0.6"><ellipse cx="960" cy="580" rx="90" ry="60" fill="#58a8dc"/><ellipse cx="1150" cy="660" rx="60" ry="50" fill="#58a8dc"/></g>
<g filter="url(#bl2)" opacity="0.6"><ellipse cx="826.1" cy="417.0" rx="6.2" ry="11.1" fill="#7ad6e4"/><ellipse cx="931.7" cy="408.1" rx="15.3" ry="3.5" fill="#a8e4f0"/><ellipse cx="958.3" cy="418.1" rx="6.2" ry="7.6" fill="#7ad6e4"/><ellipse cx="969.4" cy="415.9" rx="12.5" ry="11.8" fill="#6fd0ee"/><ellipse cx="872.2" cy="435.9" rx="12.8" ry="13.9" fill="#80dae4"/><ellipse cx="962.8" cy="449.2" rx="13.9" ry="16.0" fill="#6fd0ee"/><ellipse cx="855.0" cy="470.9" rx="16.0" ry="18.8" fill="#84dce4"/><ellipse cx="931.7" cy="470.3" rx="15.3" ry="19.4" fill="#84dce4"/><ellipse cx="892.2" cy="487.6" rx="16.7" ry="20.1" fill="#88dee6"/><ellipse cx="866.7" cy="506.4" rx="13.2" ry="16.0" fill="#6fd0ee"/><ellipse cx="991.1" cy="494.2" rx="16.7" ry="14.6" fill="#6fd0ee" transform="rotate(-20 991.1 494.2)"/><ellipse cx="956.7" cy="505.9" rx="16.7" ry="14.6" fill="#6fd0ee" transform="rotate(-25 956.7 505.9)"/><ellipse cx="916.7" cy="520.9" rx="14.6" ry="18.8" fill="#c0ecf4"/><ellipse cx="864.4" cy="545.3" rx="19.4" ry="16.0" fill="#84dce4"/><ellipse cx="894.4" cy="548.1" rx="13.9" ry="16.7" fill="#6fd0ee" transform="rotate(20 894.4 548.1)"/><ellipse cx="949.4" cy="551.4" rx="20.1" ry="20.8" fill="#80dae4"/><ellipse cx="997.2" cy="533.7" rx="16.7" ry="15.3" fill="#7ad6e4"/><ellipse cx="990.6" cy="558.1" rx="18.8" ry="19.4" fill="#7ad6e4"/><ellipse cx="1133.6" cy="417.6" rx="15.3" ry="14.6" fill="#6fd0ee"/><ellipse cx="1189.7" cy="429.2" rx="16.0" ry="11.8" fill="#6fd0ee" transform="rotate(-25 1189.7 429.2)"/><ellipse cx="1027.4" cy="442.0" rx="13.9" ry="13.9" fill="#6fd0ee"/><ellipse cx="1144.7" cy="451.4" rx="13.2" ry="16.0" fill="#6fd0ee" transform="rotate(-15 1144.7 451.4)"/><ellipse cx="1019.3" cy="474.2" rx="15.0" ry="13.9" fill="#6fd0ee"/><ellipse cx="1183.6" cy="469.2" rx="13.2" ry="14.6" fill="#6fd0ee"/><ellipse cx="1109.1" cy="474.2" rx="11.8" ry="16.0" fill="#80d8e4" transform="rotate(10 1109.1 474.2)"/><ellipse cx="1133.0" cy="472.0" rx="11.8" ry="20.1" fill="#84dae4" transform="rotate(-30 1133.0 472.0)"/><ellipse cx="1069.1" cy="499.2" rx="12.2" ry="13.9" fill="#6fd0ee"/><ellipse cx="1104.1" cy="499.8" rx="15.3" ry="14.6" fill="#80d8e4"/><ellipse cx="1025.8" cy="514.8" rx="16.7" ry="15.3" fill="#b8ecf4"/><ellipse cx="1195.2" cy="509.8" rx="9.7" ry="11.8" fill="#70cfe4"/><ellipse cx="1110.8" cy="527.6" rx="14.6" ry="15.3" fill="#6fd0ee"/><ellipse cx="1137.4" cy="527.6" rx="12.5" ry="14.6" fill="#c0eef4"/><ellipse cx="1160.2" cy="526.4" rx="13.2" ry="14.6" fill="#84dae4"/><ellipse cx="1037.4" cy="539.8" rx="15.3" ry="14.6" fill="#6fd0ee" transform="rotate(30 1037.4 539.8)"/><ellipse cx="1091.3" cy="549.2" rx="13.2" ry="15.3" fill="#7ad6e4" transform="rotate(20 1091.3 549.2)"/><ellipse cx="928.9" cy="568.1" rx="15.3" ry="13.2" fill="#6fd0ee"/><ellipse cx="860.6" cy="598.7" rx="22.2" ry="22.9" fill="#84dae4"/><ellipse cx="957.2" cy="580.3" rx="13.9" ry="11.1" fill="#74cee4"/><ellipse cx="978.9" cy="590.3" rx="17.4" ry="14.6" fill="#6fd0ee"/><ellipse cx="1001.7" cy="597.0" rx="15.3" ry="13.2" fill="#6fd0ee"/><ellipse cx="902.8" cy="607.6" rx="11.8" ry="18.8" fill="#6fd0ee" transform="rotate(10 902.8 607.6)"/><ellipse cx="930.6" cy="600.9" rx="15.3" ry="16.7" fill="#6fd0ee"/><ellipse cx="826.7" cy="612.6" rx="6.2" ry="15.3" fill="#6fd0ee"/><ellipse cx="924.4" cy="642.0" rx="16.7" ry="18.8" fill="#88dce4"/><ellipse cx="949.4" cy="641.4" rx="11.1" ry="15.3" fill="#6cc8e4"/><ellipse cx="968.9" cy="639.8" rx="13.9" ry="13.9" fill="#6fd0ee"/><ellipse cx="828.9" cy="652.0" rx="9.0" ry="16.0" fill="#b0e8f0"/><ellipse cx="994.4" cy="657.0" rx="16.7" ry="13.2" fill="#7cd8e4"/><ellipse cx="896.1" cy="673.1" rx="20.8" ry="21.5" fill="#88dce4"/><ellipse cx="862.8" cy="682.0" rx="16.0" ry="17.4" fill="#6fd0ee"/><ellipse cx="943.9" cy="676.4" rx="13.2" ry="14.6" fill="#6fd0ee"/><ellipse cx="941.7" cy="700.3" rx="18.1" ry="11.1" fill="#6fd0ee" transform="rotate(-20 941.7 700.3)"/><ellipse cx="1005.7" cy="694.8" rx="14.7" ry="14.6" fill="#6fd0ee"/><ellipse cx="885.0" cy="704.8" rx="12.5" ry="5.6" fill="#7ad6e4"/><ellipse cx="828.3" cy="701.4" rx="6.9" ry="9.7" fill="#7ad6e4"/><ellipse cx="1165.2" cy="558.1" rx="22.2" ry="16.7" fill="#84dae4"/><ellipse cx="1041.9" cy="572.0" rx="16.7" ry="13.2" fill="#6fd0ee"/><ellipse cx="1143.6" cy="574.8" rx="16.7" ry="11.8" fill="#6fd0ee" transform="rotate(15 1143.6 574.8)"/><ellipse cx="1091.3" cy="595.3" rx="16.7" ry="16.0" fill="#6fd0ee" transform="rotate(30 1091.3 595.3)"/><ellipse cx="1185.8" cy="601.4" rx="13.9" ry="16.0" fill="#6fd0ee"/><ellipse cx="1158.0" cy="620.9" rx="13.9" ry="13.9" fill="#6fd0ee" transform="rotate(-20 1158.0 620.9)"/><ellipse cx="1018.4" cy="632.0" rx="14.0" ry="16.0" fill="#78d4e4"/><ellipse cx="1108.0" cy="646.4" rx="16.7" ry="12.5" fill="#6fd0ee"/><ellipse cx="1177.4" cy="647.0" rx="16.7" ry="20.8" fill="#84dae4"/><ellipse cx="1036.9" cy="667.0" rx="13.2" ry="16.7" fill="#6fd0ee"/><ellipse cx="1085.8" cy="673.7" rx="13.2" ry="16.7" fill="#84dae4" transform="rotate(-15 1085.8 673.7)"/><ellipse cx="1134.7" cy="668.1" rx="13.9" ry="13.2" fill="#6fd0ee"/><ellipse cx="1189.7" cy="670.3" rx="15.3" ry="19.4" fill="#84dae4"/><ellipse cx="1047.4" cy="700.3" rx="13.9" ry="10.4" fill="#6fd0ee"/><ellipse cx="1115.2" cy="698.1" rx="25.0" ry="15.3" fill="#80dae4"/><ellipse cx="1151.9" cy="692.6" rx="13.9" ry="12.5" fill="#88dce4"/></g>
<g filter="url(#bl1)"><ellipse cx="826.1" cy="417.0" rx="4.7" ry="8.3" fill="#7ad6e4"/><ellipse cx="931.7" cy="408.1" rx="11.4" ry="2.6" fill="#a8e4f0"/><ellipse cx="958.3" cy="418.1" rx="4.7" ry="5.7" fill="#7ad6e4"/><ellipse cx="969.4" cy="415.9" rx="9.9" ry="9.3" fill="#fdeefb"/><ellipse cx="872.2" cy="435.9" rx="9.5" ry="10.3" fill="#80dae4"/><ellipse cx="962.8" cy="449.2" rx="11.0" ry="12.7" fill="#fdf0fb"/><ellipse cx="855.0" cy="470.9" rx="11.9" ry="14.0" fill="#84dce4"/><ellipse cx="931.7" cy="470.3" rx="11.4" ry="14.5" fill="#84dce4"/><ellipse cx="892.2" cy="487.6" rx="12.4" ry="15.0" fill="#88dee6"/><ellipse cx="866.7" cy="506.4" rx="10.4" ry="12.7" fill="#f4fcfc"/><ellipse cx="991.1" cy="494.2" rx="13.2" ry="11.5" fill="#fef2fc" transform="rotate(-20 991.1 494.2)"/><ellipse cx="956.7" cy="505.9" rx="13.2" ry="11.5" fill="#fef0fc" transform="rotate(-25 956.7 505.9)"/><ellipse cx="916.7" cy="520.9" rx="10.8" ry="14.0" fill="#c0ecf4"/><ellipse cx="864.4" cy="545.3" rx="14.5" ry="11.9" fill="#84dce4"/><ellipse cx="894.4" cy="548.1" rx="11.0" ry="13.2" fill="#fef6fc" transform="rotate(20 894.4 548.1)"/><ellipse cx="949.4" cy="551.4" rx="15.0" ry="15.5" fill="#80dae4"/><ellipse cx="997.2" cy="533.7" rx="12.4" ry="11.4" fill="#7ad6e4"/><ellipse cx="990.6" cy="558.1" rx="14.0" ry="14.5" fill="#7ad6e4"/><ellipse cx="1133.6" cy="417.6" rx="12.1" ry="11.5" fill="#c8f0f4"/><ellipse cx="1189.7" cy="429.2" rx="12.7" ry="9.3" fill="#fcf4fc" transform="rotate(-25 1189.7 429.2)"/><ellipse cx="1027.4" cy="442.0" rx="11.0" ry="11.0" fill="#fdeefa"/><ellipse cx="1144.7" cy="451.4" rx="10.4" ry="12.7" fill="#fdf0fa" transform="rotate(-15 1144.7 451.4)"/><ellipse cx="1019.3" cy="474.2" rx="11.9" ry="11.0" fill="#fef6fc"/><ellipse cx="1183.6" cy="469.2" rx="10.4" ry="11.5" fill="#fcf4fc"/><ellipse cx="1109.1" cy="474.2" rx="8.8" ry="11.9" fill="#80d8e4" transform="rotate(10 1109.1 474.2)"/><ellipse cx="1133.0" cy="472.0" rx="8.8" ry="15.0" fill="#84dae4" transform="rotate(-30 1133.0 472.0)"/><ellipse cx="1069.1" cy="499.2" rx="9.7" ry="11.0" fill="#fef6fc"/><ellipse cx="1104.1" cy="499.8" rx="11.4" ry="10.8" fill="#80d8e4"/><ellipse cx="1025.8" cy="514.8" rx="12.4" ry="11.4" fill="#b8ecf4"/><ellipse cx="1195.2" cy="509.8" rx="7.2" ry="8.8" fill="#70cfe4"/><ellipse cx="1110.8" cy="527.6" rx="11.5" ry="12.1" fill="#d8f4f8"/><ellipse cx="1137.4" cy="527.6" rx="9.3" ry="10.8" fill="#c0eef4"/><ellipse cx="1160.2" cy="526.4" rx="9.8" ry="10.8" fill="#84dae4"/><ellipse cx="1037.4" cy="539.8" rx="12.1" ry="11.5" fill="#fcf4fc" transform="rotate(30 1037.4 539.8)"/><ellipse cx="1091.3" cy="549.2" rx="9.8" ry="11.4" fill="#7ad6e4" transform="rotate(20 1091.3 549.2)"/><ellipse cx="928.9" cy="568.1" rx="12.1" ry="10.4" fill="#fcf8fc"/><ellipse cx="860.6" cy="598.7" rx="16.5" ry="17.1" fill="#84dae4"/><ellipse cx="957.2" cy="580.3" rx="10.3" ry="8.3" fill="#74cee4"/><ellipse cx="978.9" cy="590.3" rx="13.8" ry="11.5" fill="#fef6fc"/><ellipse cx="1001.7" cy="597.0" rx="12.1" ry="10.4" fill="#fcf8fc"/><ellipse cx="902.8" cy="607.6" rx="9.3" ry="14.8" fill="#fcf8fc" transform="rotate(10 902.8 607.6)"/><ellipse cx="930.6" cy="600.9" rx="12.1" ry="13.2" fill="#f0fafa"/><ellipse cx="826.7" cy="612.6" rx="5.0" ry="12.1" fill="#fcf8fc"/><ellipse cx="924.4" cy="642.0" rx="12.4" ry="14.0" fill="#88dce4"/><ellipse cx="949.4" cy="641.4" rx="8.3" ry="11.4" fill="#6cc8e4"/><ellipse cx="968.9" cy="639.8" rx="11.0" ry="11.0" fill="#f4fafa"/><ellipse cx="828.9" cy="652.0" rx="6.7" ry="11.9" fill="#b0e8f0"/><ellipse cx="994.4" cy="657.0" rx="12.4" ry="9.8" fill="#7cd8e4"/><ellipse cx="896.1" cy="673.1" rx="15.5" ry="16.0" fill="#88dce4"/><ellipse cx="862.8" cy="682.0" rx="12.7" ry="13.8" fill="#c8f0f4"/><ellipse cx="943.9" cy="676.4" rx="10.4" ry="11.5" fill="#fcf8fc"/><ellipse cx="941.7" cy="700.3" rx="14.3" ry="8.8" fill="#ecf8fa" transform="rotate(-20 941.7 700.3)"/><ellipse cx="1005.7" cy="694.8" rx="11.7" ry="11.5" fill="#fcf8fc"/><ellipse cx="885.0" cy="704.8" rx="9.3" ry="4.1" fill="#7ad6e4"/><ellipse cx="828.3" cy="701.4" rx="5.2" ry="7.2" fill="#7ad6e4"/><ellipse cx="1165.2" cy="558.1" rx="16.5" ry="12.4" fill="#84dae4"/><ellipse cx="1041.9" cy="572.0" rx="13.2" ry="10.4" fill="#fef6fc"/><ellipse cx="1143.6" cy="574.8" rx="13.2" ry="9.3" fill="#fcf8fc" transform="rotate(15 1143.6 574.8)"/><ellipse cx="1091.3" cy="595.3" rx="13.2" ry="12.7" fill="#fef6fc" transform="rotate(30 1091.3 595.3)"/><ellipse cx="1185.8" cy="601.4" rx="11.0" ry="12.7" fill="#fef6fc"/><ellipse cx="1158.0" cy="620.9" rx="11.0" ry="11.0" fill="#fef4fc" transform="rotate(-20 1158.0 620.9)"/><ellipse cx="1018.4" cy="632.0" rx="10.4" ry="11.9" fill="#78d4e4"/><ellipse cx="1108.0" cy="646.4" rx="13.2" ry="9.9" fill="#fcf8fc"/><ellipse cx="1177.4" cy="647.0" rx="12.4" ry="15.5" fill="#84dae4"/><ellipse cx="1036.9" cy="667.0" rx="10.4" ry="13.2" fill="#fcf8fc"/><ellipse cx="1085.8" cy="673.7" rx="9.8" ry="12.4" fill="#84dae4" transform="rotate(-15 1085.8 673.7)"/><ellipse cx="1134.7" cy="668.1" rx="11.0" ry="10.4" fill="#f4fafa"/><ellipse cx="1189.7" cy="670.3" rx="11.4" ry="14.5" fill="#84dae4"/><ellipse cx="1047.4" cy="700.3" rx="11.0" ry="8.2" fill="#fef4fc"/><ellipse cx="1115.2" cy="698.1" rx="18.6" ry="11.4" fill="#80dae4"/><ellipse cx="1151.9" cy="692.6" rx="10.3" ry="9.3" fill="#88dce4"/></g>
</g>
<rect x="1121.50" y="690.00" width="73.25" height="8.00" fill="#fff" />
<text transform="translate(777.65,34.40) scale(0.9953,1)" font-family='"Liberation Sans", sans-serif' font-weight="bold" font-size="44.06" fill="#000" >B</text>
<text transform="translate(907.79,53.87) scale(1.0782,1)" font-family='"Liberation Sans", sans-serif' font-weight="bold" font-size="31.54" fill="#000" ><tspan fill="#c8281c">EdU</tspan><tspan fill="#111">/</tspan><tspan fill="#2e2a7c">Hoechst</tspan></text>
<text transform="translate(803.88,369.64) rotate(-90)" font-family='"Liberation Sans", sans-serif' font-weight="bold" font-size="32.94" fill="#000"  letter-spacing="0.544">pcDNA3.1 plasmid</text>
<text transform="translate(805.21,705.97) rotate(-90)" font-family='"Liberation Sans", sans-serif' font-weight="bold" font-size="34.22" fill="#000"  letter-spacing="-0.167">miR-17-92 plasmid</text>
</g>
<g id="panelD">
<text transform="translate(2.65,790.00) scale(1.0269,1)" font-family='"Liberation Sans", sans-serif' font-weight="bold" font-size="42.75" fill="#000" >D</text>
<g id="hist1">
<path d="M165.0,1291.2 L165.0,1291.2 L165.5,1291.2 L166.0,1291.2 L166.5,1291.2 L167.0,1291.2 L167.5,1291.2 L168.0,1291.2 L168.5,1291.2 L169.0,1291.2 L169.5,1291.2 L170.0,1291.2 L170.5,1291.2 L171.0,1291.2 L171.5,1290.9 L172.0,1290.4 L172.5,1289.7 L173.0,1288.8 L173.5,1287.8 L174.0,1286.7 L174.5,1285.5 L175.0,1284.3 L175.5,1283.1 L176.0,1281.6 L176.5,1280.0 L177.0,1278.2 L177.5,1276.1 L178.0,1273.8 L178.5,1271.3 L179.0,1268.6 L179.5,1265.5 L180.0,1261.9 L180.5,1257.7 L181.0,1252.9 L181.5,1247.6 L182.0,1241.8 L182.5,1235.7 L183.0,1229.3 L183.5,1222.7 L184.0,1215.9 L184.5,1209.0 L185.0,1202.0 L185.5,1195.1 L186.0,1188.3 L186.5,1181.5 L187.0,1174.9 L187.5,1168.0 L188.0,1160.9 L188.5,1153.6 L189.0,1146.2 L189.5,1138.7 L190.0,1131.2 L190.5,1123.5 L191.0,1115.8 L191.5,1108.1 L192.0,1100.4 L192.5,1092.8 L193.0,1085.2 L193.5,1077.6 L194.0,1070.1 L194.5,1062.4 L195.0,1054.8 L195.5,1047.1 L196.0,1039.4 L196.5,1031.8 L197.0,1024.3 L197.5,1016.8 L198.0,1009.5 L198.5,1002.0 L199.0,994.0 L199.5,985.8 L200.0,977.4 L200.5,969.0 L201.0,960.6 L201.5,952.3 L202.0,944.4 L202.5,937.4 L203.0,930.9 L203.5,925.5 L204.0,922.0 L204.5,921.0 L205.0,922.3 L205.5,925.6 L206.0,930.1 L206.5,935.1 L207.0,939.9 L207.5,944.4 L208.0,948.7 L208.5,953.8 L209.0,959.8 L209.5,966.6 L210.0,973.9 L210.5,981.5 L211.0,989.2 L211.5,996.8 L212.0,1003.9 L212.5,1010.9 L213.0,1018.1 L213.5,1025.4 L214.0,1032.8 L214.5,1040.2 L215.0,1047.7 L215.5,1055.1 L216.0,1062.6 L216.5,1070.0 L217.0,1077.4 L217.5,1084.8 L218.0,1092.3 L218.5,1099.9 L219.0,1107.5 L219.5,1115.1 L220.0,1122.7 L220.5,1130.2 L221.0,1137.6 L221.5,1145.0 L222.0,1152.2 L222.5,1159.2 L223.0,1166.1 L223.5,1172.7 L224.0,1179.4 L224.5,1186.2 L225.0,1193.2 L225.5,1200.1 L226.0,1207.0 L226.5,1213.8 L227.0,1220.4 L227.5,1226.8 L228.0,1232.9 L228.5,1238.6 L229.0,1243.9 L229.5,1248.7 L230.0,1252.9 L230.5,1256.6 L231.0,1259.6 L231.5,1262.3 L232.0,1264.9 L232.5,1267.1 L233.0,1269.2 L233.5,1271.0 L234.0,1272.6 L234.5,1274.1 L235.0,1275.3 L235.5,1276.5 L236.0,1277.7 L236.5,1278.8 L237.0,1279.8 L237.5,1280.7 L238.0,1281.4 L238.5,1281.9 L239.0,1282.2 L239.5,1282.3 L240.0,1282.3 L240.5,1282.3 L241.0,1282.3 L241.5,1282.3 L242.0,1282.3 L242.5,1282.3 L243.0,1282.3 L243.5,1282.3 L244.0,1282.3 L244.5,1282.3 L245.0,1282.3 L245.0,1291.2 Z" fill="#000" clip-path="url(#cE1)"/>
<path d="M201.6,974.2 L202.4,946.2 L204.4,943.2 L205.2,930.2 L206.6,930.2 L207.6,952.2 L208.6,976.2 Z" fill="#fff"/>
<path d="M165.0,1291.2 L165.0,1291.2 L166.0,1291.2 L167.0,1291.2 L168.0,1291.2 L169.0,1291.2 L170.0,1291.2 L171.0,1291.2 L172.0,1291.2 L173.0,1291.2 L174.0,1290.7 L175.0,1289.1 L176.0,1287.0 L177.0,1284.6 L178.0,1281.9 L179.0,1278.2 L180.0,1273.7 L181.0,1268.1 L182.0,1260.5 L183.0,1250.5 L184.0,1238.5 L185.0,1225.3 L186.0,1211.5 L187.0,1197.5 L188.0,1184.0 L189.0,1170.0 L190.0,1155.3 L191.0,1140.2 L192.0,1124.8 L193.0,1109.4 L194.0,1094.1 L195.0,1079.0 L196.0,1063.8 L197.0,1048.6 L198.0,1033.7 L199.0,1019.0 L200.0,1003.2 L201.0,988.1 L202.0,976.0 L203.0,968.4 L204.0,962.7 L205.0,960.2 L206.0,962.7 L207.0,968.4 L208.0,976.0 L209.0,988.1 L210.0,1003.2 L211.0,1019.0 L212.0,1033.7 L213.0,1048.6 L214.0,1063.8 L215.0,1079.0 L216.0,1094.1 L217.0,1109.4 L218.0,1124.8 L219.0,1140.2 L220.0,1155.3 L221.0,1170.0 L222.0,1184.0 L223.0,1197.5 L224.0,1211.5 L225.0,1225.3 L226.0,1238.5 L227.0,1250.5 L228.0,1260.5 L229.0,1268.1 L230.0,1273.7 L231.0,1278.2 L232.0,1281.9 L233.0,1284.6 L234.0,1287.0 L235.0,1289.1 L236.0,1290.7 L237.0,1291.2 L238.0,1291.2 L239.0,1291.2 L240.0,1291.2 L241.0,1291.2 L242.0,1291.2 L243.0,1291.2 L244.0,1291.2 L245.0,1291.2 L245.0,1291.2 Z" fill="#dc2a1c"/>
<path d="M279.0,1291.2 L279.0,1291.2 L280.0,1291.2 L281.0,1291.2 L282.0,1291.2 L283.0,1291.1 L284.0,1291.1 L285.0,1291.1 L286.0,1291.0 L287.0,1291.0 L288.0,1290.9 L289.0,1290.9 L290.0,1290.8 L291.0,1290.7 L292.0,1290.6 L293.0,1290.5 L294.0,1290.3 L295.0,1290.2 L296.0,1290.0 L297.0,1289.8 L298.0,1289.5 L299.0,1289.2 L300.0,1288.9 L301.0,1288.6 L302.0,1288.2 L303.0,1287.8 L304.0,1287.3 L305.0,1286.8 L306.0,1286.2 L307.0,1285.6 L308.0,1284.9 L309.0,1284.2 L310.0,1283.5 L311.0,1282.7 L312.0,1281.8 L313.0,1281.0 L314.0,1280.0 L315.0,1279.1 L316.0,1278.1 L317.0,1277.1 L318.0,1276.1 L319.0,1275.1 L320.0,1274.1 L321.0,1273.1 L322.0,1272.2 L323.0,1271.2 L324.0,1270.3 L325.0,1269.5 L326.0,1268.7 L327.0,1268.0 L328.0,1267.4 L329.0,1266.8 L330.0,1266.3 L331.0,1266.0 L332.0,1265.7 L333.0,1265.6 L334.0,1265.5 L335.0,1265.6 L336.0,1265.7 L337.0,1266.0 L338.0,1266.3 L339.0,1266.8 L340.0,1267.4 L341.0,1268.0 L342.0,1268.7 L343.0,1269.5 L344.0,1270.3 L345.0,1271.2 L346.0,1272.2 L347.0,1273.1 L348.0,1274.1 L349.0,1275.1 L350.0,1276.1 L351.0,1277.1 L352.0,1278.1 L353.0,1279.1 L354.0,1280.0 L355.0,1281.0 L356.0,1281.8 L357.0,1282.7 L358.0,1283.5 L359.0,1284.2 L360.0,1284.9 L361.0,1285.6 L362.0,1286.2 L363.0,1286.8 L364.0,1287.3 L365.0,1287.8 L366.0,1288.2 L367.0,1288.6 L368.0,1288.9 L369.0,1289.2 L370.0,1289.5 L371.0,1289.8 L372.0,1290.0 L373.0,1290.2 L374.0,1290.3 L375.0,1290.5 L376.0,1290.6 L377.0,1290.7 L378.0,1290.8 L379.0,1290.9 L380.0,1290.9 L381.0,1291.0 L382.0,1291.0 L383.0,1291.1 L384.0,1291.1 L385.0,1291.1 L386.0,1291.2 L387.0,1291.2 L388.0,1291.2 L389.0,1291.2 L389.0,1291.2 Z" fill="#dc2a1c"/>
<g clip-path="url(#cS1)"><rect x="160" y="1266.25" width="234" height="25" fill="url(#hb1)"/><g clip-path="url(#cR1)"><rect x="160" y="1266.25" width="234" height="25" fill="#dc2a1c"/><rect x="160" y="1266.25" width="234" height="25" fill="url(#hk1)"/></g></g>
<path d="M170.0,1291.2 L171.0,1291.2 L172.0,1291.2 L173.0,1291.2 L174.0,1291.2 L175.0,1291.2 L176.0,1291.2 L177.0,1291.2 L178.0,1291.2 L179.0,1291.2 L180.0,1291.2 L181.0,1291.2 L182.0,1291.2 L183.0,1291.2 L184.0,1291.2 L185.0,1291.1 L186.0,1291.1 L187.0,1291.0 L188.0,1290.9 L189.0,1290.8 L190.0,1290.6 L191.0,1290.4 L192.0,1290.2 L193.0,1289.9 L194.0,1289.6 L195.0,1289.1 L196.0,1288.6 L197.0,1288.1 L198.0,1287.4 L199.0,1286.7 L200.0,1285.9 L201.0,1285.1 L202.0,1284.2 L203.0,1283.2 L204.0,1282.2 L205.0,1281.2 L206.0,1280.3 L207.0,1279.3 L208.0,1278.3 L209.0,1277.4 L210.0,1276.6 L211.0,1275.8 L212.0,1275.1 L213.0,1274.4 L214.0,1273.9 L215.0,1273.4 L216.0,1272.9 L217.0,1272.6 L218.0,1272.3 L219.0,1272.1 L220.0,1271.9 L221.0,1271.7 L222.0,1271.6 L223.0,1271.5 L224.0,1271.4 L225.0,1271.4 L226.0,1271.3 L227.0,1271.3 L228.0,1271.3 L229.0,1271.3 L230.0,1271.3 L231.0,1271.3 L232.0,1271.3 L233.0,1271.3 L234.0,1271.3 L235.0,1271.3 L236.0,1271.3 L237.0,1271.3 L238.0,1271.3 L239.0,1271.3 L240.0,1271.3 L241.0,1271.3 L242.0,1271.3 L243.0,1271.3 L244.0,1271.3 L245.0,1271.3 L246.0,1271.3 L247.0,1271.3 L248.0,1271.3 L249.0,1271.3 L250.0,1271.3 L251.0,1271.3 L252.0,1271.3 L253.0,1271.3 L254.0,1271.3 L255.0,1271.3 L256.0,1271.3 L257.0,1271.3 L258.0,1271.3 L259.0,1271.3 L260.0,1271.3 L261.0,1271.3 L262.0,1271.3 L263.0,1271.3 L264.0,1271.3 L265.0,1271.3 L266.0,1271.3 L267.0,1271.3 L268.0,1271.2 L269.0,1271.3 L270.0,1271.3 L271.0,1271.3 L272.0,1271.3 L273.0,1271.3 L274.0,1271.3 L275.0,1271.3 L276.0,1271.3 L277.0,1271.3 L278.0,1271.3 L279.0,1271.3 L280.0,1271.3 L281.0,1271.3 L282.0,1271.3 L283.0,1271.3 L284.0,1271.3 L285.0,1271.3 L286.0,1271.3 L287.0,1271.3 L288.0,1271.3 L289.0,1271.3 L290.0,1271.3 L291.0,1271.3 L292.0,1271.3 L293.0,1271.3 L294.0,1271.3 L295.0,1271.3 L296.0,1271.3 L297.0,1271.3 L298.0,1271.3 L299.0,1271.3 L300.0,1271.3 L301.0,1271.3 L302.0,1271.3 L303.0,1271.3 L304.0,1271.3 L305.0,1271.3 L306.0,1271.3 L307.0,1271.3 L308.0,1271.3 L309.0,1271.3 L310.0,1271.3 L311.0,1271.3 L312.0,1271.3 L313.0,1271.4 L314.0,1271.4 L315.0,1271.5 L316.0,1271.6 L317.0,1271.7 L318.0,1271.8 L319.0,1272.0 L320.0,1272.2 L321.0,1272.5 L322.0,1272.8 L323.0,1273.2 L324.0,1273.6 L325.0,1274.1 L326.0,1274.7 L327.0,1275.4 L328.0,1276.1 L329.0,1276.8 L330.0,1277.6 L331.0,1278.5 L332.0,1279.4 L333.0,1280.3 L334.0,1281.2 L335.0,1282.2 L336.0,1283.1 L337.0,1284.0 L338.0,1284.9 L339.0,1285.7 L340.0,1286.4 L341.0,1287.1 L342.0,1287.8 L343.0,1288.4 L344.0,1288.9 L345.0,1289.3 L346.0,1289.7 L347.0,1290.0 L348.0,1290.3 L349.0,1290.5 L350.0,1290.7 L351.0,1290.8 L352.0,1290.9 L353.0,1291.0 L354.0,1291.1 L355.0,1291.1 L356.0,1291.2 L357.0,1291.2 L358.0,1291.2 L359.0,1291.2 L360.0,1291.2 L361.0,1291.2 L362.0,1291.2 L363.0,1291.2 L364.0,1291.2 L365.0,1291.2 L366.0,1291.2 L367.0,1291.2 L368.0,1291.2 L369.0,1291.2 L370.0,1291.2 L371.0,1291.2 L372.0,1291.2 L373.0,1291.2 L374.0,1291.2" fill="none" stroke="#201010" stroke-width="1.2"/>
<path d="M165.0,1291.2 L166.0,1291.2 L167.0,1291.2 L168.0,1291.2 L169.0,1291.2 L170.0,1291.2 L171.0,1291.2 L172.0,1291.2 L173.0,1291.2 L174.0,1290.7 L175.0,1289.1 L176.0,1287.0 L177.0,1284.6 L178.0,1281.9 L179.0,1278.2 L180.0,1273.7 L181.0,1268.1 L182.0,1260.5 L183.0,1250.5 L184.0,1238.5 L185.0,1225.3 L186.0,1211.5 L187.0,1197.5 L188.0,1184.0 L189.0,1170.0 L190.0,1155.3 L191.0,1140.2 L192.0,1124.8 L193.0,1109.4 L194.0,1094.1 L195.0,1079.0 L196.0,1063.8 L197.0,1048.6 L198.0,1033.7 L199.0,1019.0 L200.0,1003.2 L201.0,988.1 L202.0,976.0 L203.0,968.4 L204.0,962.7 L205.0,960.2 L206.0,962.7 L207.0,968.4 L208.0,976.0 L209.0,988.1 L210.0,1003.2 L211.0,1019.0 L212.0,1033.7 L213.0,1048.6 L214.0,1063.8 L215.0,1079.0 L216.0,1094.1 L217.0,1109.4 L218.0,1124.8 L219.0,1140.2 L220.0,1155.3 L221.0,1170.0 L222.0,1184.0 L223.0,1197.5 L224.0,1211.5 L225.0,1225.3 L226.0,1238.5 L227.0,1250.5 L228.0,1260.5 L229.0,1268.1 L230.0,1273.7 L231.0,1278.2 L232.0,1281.9 L233.0,1284.6 L234.0,1287.0 L235.0,1289.1 L236.0,1290.7 L237.0,1291.2 L238.0,1291.2 L239.0,1291.2 L240.0,1291.2 L241.0,1291.2 L242.0,1291.2 L243.0,1291.2 L244.0,1291.2 L245.0,1291.2" fill="none" stroke="#000" stroke-width="1.0"/>
<path d="M279.0,1291.2 L280.0,1291.2 L281.0,1291.2 L282.0,1291.2 L283.0,1291.1 L284.0,1291.1 L285.0,1291.1 L286.0,1291.0 L287.0,1291.0 L288.0,1290.9 L289.0,1290.9 L290.0,1290.8 L291.0,1290.7 L292.0,1290.6 L293.0,1290.5 L294.0,1290.3 L295.0,1290.2 L296.0,1290.0 L297.0,1289.8 L298.0,1289.5 L299.0,1289.2 L300.0,1288.9 L301.0,1288.6 L302.0,1288.2 L303.0,1287.8 L304.0,1287.3 L305.0,1286.8 L306.0,1286.2 L307.0,1285.6 L308.0,1284.9 L309.0,1284.2 L310.0,1283.5 L311.0,1282.7 L312.0,1281.8 L313.0,1281.0 L314.0,1280.0 L315.0,1279.1 L316.0,1278.1 L317.0,1277.1 L318.0,1276.1 L319.0,1275.1 L320.0,1274.1 L321.0,1273.1 L322.0,1272.2 L323.0,1271.2 L324.0,1270.3 L325.0,1269.5 L326.0,1268.7 L327.0,1268.0 L328.0,1267.4 L329.0,1266.8 L330.0,1266.3 L331.0,1266.0 L332.0,1265.7 L333.0,1265.6 L334.0,1265.5 L335.0,1265.6 L336.0,1265.7 L337.0,1266.0 L338.0,1266.3 L339.0,1266.8 L340.0,1267.4 L341.0,1268.0 L342.0,1268.7 L343.0,1269.5 L344.0,1270.3 L345.0,1271.2 L346.0,1272.2 L347.0,1273.1 L348.0,1274.1 L349.0,1275.1 L350.0,1276.1 L351.0,1277.1 L352.0,1278.1 L353.0,1279.1 L354.0,1280.0 L355.0,1281.0 L356.0,1281.8 L357.0,1282.7 L358.0,1283.5 L359.0,1284.2 L360.0,1284.9 L361.0,1285.6 L362.0,1286.2 L363.0,1286.8 L364.0,1287.3 L365.0,1287.8 L366.0,1288.2 L367.0,1288.6 L368.0,1288.9 L369.0,1289.2 L370.0,1289.5 L371.0,1289.8 L372.0,1290.0 L373.0,1290.2 L374.0,1290.3 L375.0,1290.5 L376.0,1290.6 L377.0,1290.7 L378.0,1290.8 L379.0,1290.9 L380.0,1290.9 L381.0,1291.0 L382.0,1291.0 L383.0,1291.1 L384.0,1291.1 L385.0,1291.1 L386.0,1291.2 L387.0,1291.2 L388.0,1291.2 L389.0,1291.2" fill="none" stroke="#301008" stroke-width="1.1"/>
<path d="M169.0,1291.2 L169.9,1291.2 L170.8,1291.2 L171.7,1290.8 L172.6,1289.6 L173.5,1286.7 L174.4,1284.8 L175.3,1285.3 L176.2,1283.6 L177.1,1280.9 L178.0,1274.2 L178.9,1269.9 L179.8,1263.6 L180.7,1255.1 L181.6,1246.8 L182.5,1237.7 L183.4,1225.5 L184.3,1210.5 L185.2,1198.8 L186.1,1187.2 L187.0,1173.4 L187.9,1162.4 L188.8,1150.4 L189.7,1135.5 L190.6,1124.4 L191.5,1109.3 L192.4,1090.6 L193.3,1083.9 L194.2,1063.2 L195.1,1055.5 L196.0,1038.3 L196.9,1025.3 L197.8,1010.5 L198.7,995.8 L199.6,978.4 L200.5,963.9 L201.4,951.3 L202.3,928.1 L203.2,924.5 L204.1,917.1 L205.0,912.4 L205.9,927.2 L206.8,931.8 L207.7,933.7 L208.6,946.9 L209.5,956.8 L210.4,967.9 L211.3,984.1 L212.2,996.3 L213.1,1011.4 L214.0,1024.7 L214.9,1038.3 L215.8,1047.6 L216.7,1063.5 L217.6,1075.8 L218.5,1088.1 L219.4,1103.2 L220.3,1116.6 L221.2,1127.8 L222.1,1142.5 L223.0,1156.3 L223.9,1168.2 L224.8,1177.2 L225.7,1193.8 L226.6,1205.5 L227.5,1218.3 L228.4,1227.3 L229.3,1237.4 L230.2,1246.3 L231.1,1246.2 L232.0,1253.8 L232.9,1258.4 L233.8,1261.7 L234.7,1261.9 L235.6,1264.7 L236.5,1265.4 L237.4,1270.5 L238.3,1268.9 L239.2,1270.4 L240.1,1272.4 L241.0,1269.3 L241.9,1272.9 L242.8,1272.7 L243.7,1271.5 L244.6,1270.5 L245.5,1269.5 L246.4,1270.5 L247.3,1273.3 L248.2,1270.7 L249.1,1273.0 L250.0,1273.3 L250.9,1270.1 L251.8,1265.7 L252.7,1271.1 L253.6,1276.5 L254.5,1269.0 L255.4,1271.4 L256.3,1275.7 L257.2,1271.8 L258.1,1269.2 L259.0,1272.9 L259.9,1267.1 L260.8,1268.3 L261.7,1273.3 L262.6,1263.7 L263.5,1273.1 L264.4,1270.3 L265.3,1269.5 L266.2,1276.0 L267.1,1268.4 L268.0,1271.3 L268.9,1266.6 L269.8,1272.2 L270.7,1270.0 L271.6,1269.3 L272.5,1267.6 L273.4,1271.1 L274.3,1271.5 L275.2,1269.5 L276.1,1270.7 L277.0,1273.6 L277.9,1264.9 L278.8,1270.1 L279.7,1270.8 L280.6,1266.7 L281.5,1271.9 L282.4,1272.0 L283.3,1269.3 L284.2,1273.0 L285.1,1272.2 L286.0,1268.9 L286.9,1268.9 L287.8,1269.7 L288.7,1270.2 L289.6,1270.3 L290.5,1273.0 L291.4,1272.7 L292.3,1269.6 L293.2,1273.6 L294.1,1268.6 L295.0,1273.7 L295.9,1270.8 L296.8,1274.2 L297.7,1267.4 L298.6,1265.9 L299.5,1271.6 L300.4,1265.6 L301.3,1265.3 L302.2,1267.1 L303.1,1271.2 L304.0,1259.2 L304.9,1264.8 L305.8,1266.2 L306.7,1266.5 L307.6,1258.4 L308.5,1265.7 L309.4,1260.3 L310.3,1259.8 L311.2,1259.2 L312.1,1257.0 L313.0,1260.7 L313.9,1263.4 L314.8,1259.5 L315.7,1265.0 L316.6,1262.6 L317.5,1259.1 L318.4,1256.3 L319.3,1251.7 L320.2,1256.8 L321.1,1252.1 L322.0,1250.7 L322.9,1251.5 L323.8,1252.7 L324.7,1254.1 L325.6,1253.8 L326.5,1255.1 L327.4,1250.7 L328.3,1253.1 L329.2,1249.3 L330.1,1254.4 L331.0,1252.2 L331.9,1251.6 L332.8,1255.2 L333.7,1253.2 L334.6,1255.7 L335.5,1251.1 L336.4,1258.2 L337.3,1252.4 L338.2,1261.2 L339.1,1259.3 L340.0,1262.9 L340.9,1258.0 L341.8,1266.8 L342.7,1264.1 L343.6,1264.3 L344.5,1269.8 L345.4,1266.6 L346.3,1271.2 L347.2,1272.1 L348.1,1271.3 L349.0,1275.3 L349.9,1278.8 L350.8,1274.2 L351.7,1274.3 L352.6,1273.9 L353.5,1281.2 L354.4,1279.5 L355.3,1277.5 L356.2,1277.2 L357.1,1279.1 L358.0,1280.1 L358.9,1283.8 L359.8,1285.1 L360.7,1283.0 L361.6,1282.7 L362.5,1285.3 L363.4,1285.8 L364.3,1283.5 L365.2,1285.8 L366.1,1287.2 L367.0,1286.9 L367.9,1290.2 L368.8,1289.5 L369.7,1290.5 L370.6,1286.6 L371.5,1289.4 L372.4,1290.4 L373.3,1289.3 L374.2,1290.3 L375.1,1290.1 L376.0,1288.8 L376.9,1287.7 L377.8,1289.6 L378.7,1290.3 L379.6,1290.4 L380.5,1290.5 L381.4,1290.5 L382.3,1290.6 L383.2,1290.7 L384.1,1290.7 L385.0,1290.8 L385.9,1290.8 L386.8,1290.9 L387.7,1290.9 L388.6,1290.9 L389.5,1290.9 L390.4,1291.0 L391.3,1291.0 L392.2,1291.0 L393.1,1291.0 L394.0,1291.0 L394.9,1291.1 L395.8,1291.1" fill="none" stroke="#000" stroke-width="1.15" stroke-linejoin="round"/>
<path d="M167.0,1291.2 L168.0,1291.2 L169.0,1291.2 L170.0,1291.2 L171.0,1291.2 L172.0,1291.2 L173.0,1291.0 L174.0,1289.8 L175.0,1287.9 L176.0,1285.7 L177.0,1283.2 L178.0,1280.1 L179.0,1276.0 L180.0,1271.1 L181.0,1264.8 L182.0,1256.2 L183.0,1245.5 L184.0,1233.1 L185.0,1219.8 L186.0,1206.1 L187.0,1192.4 L188.0,1179.1 L189.0,1165.0 L190.0,1150.3 L191.0,1135.2 L192.0,1119.8 L193.0,1104.4 L194.0,1089.2 L195.0,1073.9 L196.0,1058.5 L197.0,1043.0 L198.0,1027.9 L199.0,1012.6 L200.0,996.3 L201.0,980.9 L202.0,968.4 L203.0,960.1 L204.0,953.6 L205.0,950.2 L206.0,951.6 L207.0,956.2 L208.0,962.6 L209.0,973.2 L210.0,987.0 L211.0,1001.7 L212.0,1015.5 L213.0,1029.4 L214.0,1043.7 L215.0,1058.2 L216.0,1072.6 L217.0,1087.1 L218.0,1101.9 L219.0,1116.8 L220.0,1131.5 L221.0,1145.9 L222.0,1159.7 L223.0,1172.9 L224.0,1186.4 L225.0,1200.1 L226.0,1213.3 L227.0,1225.6 L228.0,1236.3 L229.0,1244.9 L230.0,1251.1 L231.0,1256.1 L232.0,1260.1 L233.0,1263.2 L234.0,1265.7 L235.0,1267.9 L236.0,1269.8 L237.0,1271.0 L238.0,1271.3 L239.0,1271.3 L240.0,1271.3 L241.0,1271.3 L242.0,1271.3 L243.0,1271.3 L244.0,1271.3 L245.0,1271.2 L246.0,1271.2 L247.0,1271.2 L248.0,1271.2 L249.0,1271.2 L250.0,1271.2 L251.0,1271.2 L252.0,1271.2 L253.0,1271.2 L254.0,1271.2 L255.0,1271.2 L256.0,1271.2 L257.0,1271.2 L258.0,1271.2 L259.0,1271.2 L260.0,1271.2 L261.0,1271.2 L262.0,1271.2 L263.0,1271.2 L264.0,1271.2 L265.0,1271.2 L266.0,1271.2 L267.0,1271.2 L268.0,1271.2 L269.0,1271.2 L270.0,1271.2 L271.0,1271.2 L272.0,1271.2 L273.0,1271.2 L274.0,1271.2 L275.0,1271.2 L276.0,1271.2 L277.0,1271.2 L278.0,1271.2 L279.0,1271.2 L280.0,1271.2 L281.0,1271.2 L282.0,1271.1 L283.0,1271.1 L284.0,1271.1 L285.0,1271.0 L286.0,1271.0 L287.0,1271.0 L288.0,1270.9 L289.0,1270.8 L290.0,1270.7 L291.0,1270.6 L292.0,1270.5 L293.0,1270.4 L294.0,1270.2 L295.0,1270.1 L296.0,1269.9 L297.0,1269.6 L298.0,1269.4 L299.0,1269.1 L300.0,1268.8 L301.0,1268.4 L302.0,1268.0 L303.0,1267.6 L304.0,1267.1 L305.0,1266.6 L306.0,1266.0 L307.0,1265.4 L308.0,1264.7 L309.0,1264.0 L310.0,1263.2 L311.0,1262.4 L312.0,1261.6 L313.0,1260.7 L314.0,1259.9 L315.0,1259.0 L316.0,1258.1 L317.0,1257.2 L318.0,1256.3 L319.0,1255.5 L320.0,1254.7 L321.0,1253.9 L322.0,1253.3 L323.0,1252.7 L324.0,1252.2 L325.0,1251.9 L326.0,1251.7 L327.0,1251.6 L328.0,1251.7 L329.0,1251.9 L330.0,1252.2 L331.0,1252.7 L332.0,1253.4 L333.0,1254.1 L334.0,1255.0 L335.0,1256.0 L336.0,1257.1 L337.0,1258.3 L338.0,1259.5 L339.0,1260.8 L340.0,1262.2 L341.0,1263.5 L342.0,1264.9 L343.0,1266.2 L344.0,1267.6 L345.0,1269.0 L346.0,1270.3 L347.0,1271.6 L348.0,1272.9 L349.0,1274.1 L350.0,1275.3 L351.0,1276.5 L352.0,1277.6 L353.0,1278.7 L354.0,1279.7 L355.0,1280.7 L356.0,1281.6 L357.0,1282.5 L358.0,1283.3 L359.0,1284.1 L360.0,1284.8 L361.0,1285.5 L362.0,1286.1 L363.0,1286.7 L364.0,1287.2 L365.0,1287.7 L366.0,1288.1 L367.0,1288.5 L368.0,1288.9 L369.0,1289.2 L370.0,1289.5 L371.0,1289.7 L372.0,1289.9 L373.0,1290.1 L374.0,1290.3 L375.0,1290.5 L376.0,1290.6 L377.0,1290.7 L378.0,1290.8 L379.0,1290.9 L380.0,1290.9 L381.0,1291.0 L382.0,1291.0 L383.0,1291.1 L384.0,1291.1 L385.0,1291.1 L386.0,1291.2 L387.0,1291.2 L388.0,1291.2 L389.0,1291.2 L390.0,1291.2 L391.0,1291.2 L392.0,1291.2" fill="none" stroke="#000" stroke-width="1.1"/>
<line x1="45.00" y1="876.00" x2="45.00" y2="1291.25" stroke="#111" stroke-width="1.4" stroke-linecap="butt"/>
<line x1="32.50" y1="1291.25" x2="520.68" y2="1291.25" stroke="#111" stroke-width="1.4" stroke-linecap="butt"/>
<line x1="45.00" y1="1291.25" x2="45.00" y2="1303.25" stroke="#111" stroke-width="1.4" stroke-linecap="butt"/>
<line x1="64.82" y1="1291.25" x2="64.82" y2="1298.25" stroke="#111" stroke-width="1.4" stroke-linecap="butt"/>
<line x1="84.64" y1="1291.25" x2="84.64" y2="1298.25" stroke="#111" stroke-width="1.4" stroke-linecap="butt"/>
<line x1="104.46" y1="1291.25" x2="104.46" y2="1298.25" stroke="#111" stroke-width="1.4" stroke-linecap="butt"/>
<line x1="124.28" y1="1291.25" x2="124.28" y2="1298.25" stroke="#111" stroke-width="1.4" stroke-linecap="butt"/>
<line x1="144.10" y1="1291.25" x2="144.10" y2="1303.25" stroke="#111" stroke-width="1.4" stroke-linecap="butt"/>
<line x1="163.92" y1="1291.25" x2="163.92" y2="1298.25" stroke="#111" stroke-width="1.4" stroke-linecap="butt"/>
<line x1="183.74" y1="1291.25" x2="183.74" y2="1298.25" stroke="#111" stroke-width="1.4" stroke-linecap="butt"/>
<line x1="203.56" y1="1291.25" x2="203.56" y2="1298.25" stroke="#111" stroke-width="1.4" stroke-linecap="butt"/>
<line x1="223.38" y1="1291.25" x2="223.38" y2="1298.25" stroke="#111" stroke-width="1.4" stroke-linecap="butt"/>
<line x1="243.20" y1="1291.25" x2="243.20" y2="1303.25" stroke="#111" stroke-width="1.4" stroke-linecap="butt"/>
<line x1="263.02" y1="1291.25" x2="263.02" y2="1298.25" stroke="#111" stroke-width="1.4" stroke-linecap="butt"/>
<line x1="282.84" y1="1291.25" x2="282.84" y2="1298.25" stroke="#111" stroke-width="1.4" stroke-linecap="butt"/>
<line x1="302.66" y1="1291.25" x2="302.66" y2="1298.25" stroke="#111" stroke-width="1.4" stroke-linecap="butt"/>
<line x1="322.48" y1="1291.25" x2="322.48" y2="1298.25" stroke="#111" stroke-width="1.4" stroke-linecap="butt"/>
<line x1="342.30" y1="1291.25" x2="342.30" y2="1303.25" stroke="#111" stroke-width="1.4" stroke-linecap="butt"/>
<line x1="362.12" y1="1291.25" x2="362.12" y2="1298.25" stroke="#111" stroke-width="1.4" stroke-linecap="butt"/>
<line x1="381.94" y1="1291.25" x2="381.94" y2="1298.25" stroke="#111" stroke-width="1.4" stroke-linecap="butt"/>
<line x1="401.76" y1="1291.25" x2="401.76" y2="1298.25" stroke="#111" stroke-width="1.4" stroke-linecap="butt"/>
<line x1="421.58" y1="1291.25" x2="421.58" y2="1298.25" stroke="#111" stroke-width="1.4" stroke-linecap="butt"/>
<line x1="441.40" y1="1291.25" x2="441.40" y2="1303.25" stroke="#111" stroke-width="1.4" stroke-linecap="butt"/>
<line x1="461.22" y1="1291.25" x2="461.22" y2="1298.25" stroke="#111" stroke-width="1.4" stroke-linecap="butt"/>
<line x1="481.04" y1="1291.25" x2="481.04" y2="1298.25" stroke="#111" stroke-width="1.4" stroke-linecap="butt"/>
<line x1="500.86" y1="1291.25" x2="500.86" y2="1298.25" stroke="#111" stroke-width="1.4" stroke-linecap="butt"/>
<line x1="520.68" y1="1291.25" x2="520.68" y2="1298.25" stroke="#111" stroke-width="1.4" stroke-linecap="butt"/>
<line x1="32.50" y1="1291.25" x2="45.00" y2="1291.25" stroke="#111" stroke-width="1.4" stroke-linecap="butt"/>
<line x1="39.00" y1="1270.50" x2="45.00" y2="1270.50" stroke="#111" stroke-width="1.4" stroke-linecap="butt"/>
<line x1="39.00" y1="1249.75" x2="45.00" y2="1249.75" stroke="#111" stroke-width="1.4" stroke-linecap="butt"/>
<line x1="39.00" y1="1229.00" x2="45.00" y2="1229.00" stroke="#111" stroke-width="1.4" stroke-linecap="butt"/>
<line x1="39.00" y1="1208.25" x2="45.00" y2="1208.25" stroke="#111" stroke-width="1.4" stroke-linecap="butt"/>
<line x1="32.50" y1="1187.50" x2="45.00" y2="1187.50" stroke="#111" stroke-width="1.4" stroke-linecap="butt"/>
<line x1="39.00" y1="1166.75" x2="45.00" y2="1166.75" stroke="#111" stroke-width="1.4" stroke-linecap="butt"/>
<line x1="39.00" y1="1146.00" x2="45.00" y2="1146.00" stroke="#111" stroke-width="1.4" stroke-linecap="butt"/>
<line x1="39.00" y1="1125.25" x2="45.00" y2="1125.25" stroke="#111" stroke-width="1.4" stroke-linecap="butt"/>
<line x1="39.00" y1="1104.50" x2="45.00" y2="1104.50" stroke="#111" stroke-width="1.4" stroke-linecap="butt"/>
<line x1="32.50" y1="1083.75" x2="45.00" y2="1083.75" stroke="#111" stroke-width="1.4" stroke-linecap="butt"/>
<line x1="39.00" y1="1063.00" x2="45.00" y2="1063.00" stroke="#111" stroke-width="1.4" stroke-linecap="butt"/>
<line x1="39.00" y1="1042.25" x2="45.00" y2="1042.25" stroke="#111" stroke-width="1.4" stroke-linecap="butt"/>
<line x1="39.00" y1="1021.50" x2="45.00" y2="1021.50" stroke="#111" stroke-width="1.4" stroke-linecap="butt"/>
<line x1="39.00" y1="1000.75" x2="45.00" y2="1000.75" stroke="#111" stroke-width="1.4" stroke-linecap="butt"/>
<line x1="32.50" y1="980.00" x2="45.00" y2="980.00" stroke="#111" stroke-width="1.4" stroke-linecap="butt"/>
<line x1="39.00" y1="959.25" x2="45.00" y2="959.25" stroke="#111" stroke-width="1.4" stroke-linecap="butt"/>
<line x1="39.00" y1="938.50" x2="45.00" y2="938.50" stroke="#111" stroke-width="1.4" stroke-linecap="butt"/>
<line x1="39.00" y1="917.75" x2="45.00" y2="917.75" stroke="#111" stroke-width="1.4" stroke-linecap="butt"/>
<line x1="39.00" y1="897.00" x2="45.00" y2="897.00" stroke="#111" stroke-width="1.4" stroke-linecap="butt"/>
<text x="45.0" y="1317.2" font-family='"Liberation Sans", sans-serif' font-size="11.5" text-anchor="middle" fill="#2e1e2e" stroke="#2e1e2e" stroke-width="0.3" textLength="7" lengthAdjust="spacingAndGlyphs">0</text>
<text x="144.1" y="1317.2" font-family='"Liberation Sans", sans-serif' font-size="11.5" text-anchor="middle" fill="#2e1e2e" stroke="#2e1e2e" stroke-width="0.3" textLength="13" lengthAdjust="spacingAndGlyphs">50</text>
<text x="243.2" y="1317.2" font-family='"Liberation Sans", sans-serif' font-size="11.5" text-anchor="middle" fill="#2e1e2e" stroke="#2e1e2e" stroke-width="0.3" textLength="19" lengthAdjust="spacingAndGlyphs">100</text>
<text x="342.3" y="1317.2" font-family='"Liberation Sans", sans-serif' font-size="11.5" text-anchor="middle" fill="#2e1e2e" stroke="#2e1e2e" stroke-width="0.3" textLength="19" lengthAdjust="spacingAndGlyphs">150</text>
<text x="441.4" y="1317.2" font-family='"Liberation Sans", sans-serif' font-size="11.5" text-anchor="middle" fill="#2e1e2e" stroke="#2e1e2e" stroke-width="0.3" textLength="19" lengthAdjust="spacingAndGlyphs">200</text>
<text transform="translate(30.0,1291.2) rotate(-90)" font-family='"Liberation Sans", sans-serif' font-size="11.5" text-anchor="middle" fill="#2e1e2e" stroke="#2e1e2e" stroke-width="0.3" textLength="7" lengthAdjust="spacingAndGlyphs">0</text>
<text transform="translate(30.0,1187.5) rotate(-90)" font-family='"Liberation Sans", sans-serif' font-size="11.5" text-anchor="middle" fill="#2e1e2e" stroke="#2e1e2e" stroke-width="0.3" textLength="17" lengthAdjust="spacingAndGlyphs">200</text>
<text transform="translate(30.0,1083.8) rotate(-90)" font-family='"Liberation Sans", sans-serif' font-size="11.5" text-anchor="middle" fill="#2e1e2e" stroke="#2e1e2e" stroke-width="0.3" textLength="17" lengthAdjust="spacingAndGlyphs">400</text>
<text transform="translate(30.0,980.0) rotate(-90)" font-family='"Liberation Sans", sans-serif' font-size="11.5" text-anchor="middle" fill="#2e1e2e" stroke="#2e1e2e" stroke-width="0.3" textLength="17" lengthAdjust="spacingAndGlyphs">600</text>
<text transform="translate(174.13,1332.52) scale(1.0463,1)" font-family='"Liberation Sans", sans-serif' font-weight="normal" font-size="16.58" fill="#443434" stroke="#443434" stroke-width="0.3">Channels (FL3 Lin-FL3 LIN)</text>
<text transform="translate(15.84,1113.36) rotate(-90) scale(1.0898,1)" font-family='"Liberation Sans", sans-serif' font-weight="normal" font-size="15.65" fill="#3a2828" stroke="#3a2828" stroke-width="0.3">Number</text>
<path d="M203.0,1293.2 L211.0,1307.2 L195.0,1307.2 Z" fill="#000"/>
<rect x="416.0" y="860.8" width="19" height="13" fill="#dc2a1c" stroke="#1a0804" stroke-width="1.6"/>
<text x="446.0" y="872.0" font-family='"Liberation Sans", sans-serif' font-size="12.5" fill="#5252c6" stroke="#5252c6" stroke-width="0.35" textLength="38" lengthAdjust="spacingAndGlyphs">Dip G1</text>
<rect x="416.0" y="877.2" width="19" height="13" fill="#dc2a1c" stroke="#1a0804" stroke-width="1.6"/>
<text x="446.0" y="888.5" font-family='"Liberation Sans", sans-serif' font-size="12.5" fill="#5252c6" stroke="#5252c6" stroke-width="0.35" textLength="39.5" lengthAdjust="spacingAndGlyphs">Dip G2</text>
<rect x="416.0" y="893.8" width="19" height="13" fill="#fff" stroke="#080808" stroke-width="1.6"/>
<line x1="428.0" y1="894.8" x2="434.0" y2="899.8" stroke="#4450c8" stroke-width="1.2"/>
<line x1="418.0" y1="895.2" x2="430.0" y2="905.8" stroke="#4450c8" stroke-width="1.3"/>
<text x="446.0" y="905.0" font-family='"Liberation Sans", sans-serif' font-size="12.5" fill="#5252c6" stroke="#5252c6" stroke-width="0.35" textLength="31" lengthAdjust="spacingAndGlyphs">Dip S</text>
<text transform="translate(146.53,824.60) scale(1.1189,1)" font-family='"Liberation Sans", sans-serif' font-weight="bold" font-size="30.48" fill="#000" >pcDNA3.1 plasmid</text>
</g>
<g id="hist2">
<path d="M738.0,1289.2 L738.0,1289.2 L738.5,1289.2 L739.0,1289.2 L739.5,1289.2 L740.0,1289.2 L740.5,1289.2 L741.0,1289.2 L741.5,1289.2 L742.0,1289.2 L742.5,1288.9 L743.0,1288.5 L743.5,1287.9 L744.0,1287.2 L744.5,1286.4 L745.0,1285.5 L745.5,1284.5 L746.0,1283.5 L746.5,1282.4 L747.0,1281.4 L747.5,1280.3 L748.0,1279.2 L748.5,1277.9 L749.0,1276.5 L749.5,1275.0 L750.0,1273.3 L750.5,1271.6 L751.0,1269.7 L751.5,1267.6 L752.0,1265.4 L752.5,1263.0 L753.0,1260.4 L753.5,1257.2 L754.0,1253.3 L754.5,1248.7 L755.0,1243.7 L755.5,1238.2 L756.0,1232.4 L756.5,1226.3 L757.0,1220.1 L757.5,1213.9 L758.0,1207.7 L758.5,1201.6 L759.0,1195.6 L759.5,1189.5 L760.0,1183.1 L760.5,1176.6 L761.0,1169.9 L761.5,1163.2 L762.0,1156.3 L762.5,1149.4 L763.0,1142.5 L763.5,1135.7 L764.0,1128.9 L764.5,1122.2 L765.0,1115.7 L765.5,1109.3 L766.0,1103.0 L766.5,1096.8 L767.0,1090.6 L767.5,1084.5 L768.0,1078.3 L768.5,1072.2 L769.0,1066.0 L769.5,1059.8 L770.0,1053.5 L770.5,1047.1 L771.0,1040.5 L771.5,1033.3 L772.0,1025.7 L772.5,1018.1 L773.0,1010.5 L773.5,1003.2 L774.0,996.2 L774.5,989.8 L775.0,983.9 L775.5,978.5 L776.0,972.9 L776.5,966.9 L777.0,961.1 L777.5,956.3 L778.0,953.3 L778.5,952.7 L779.0,954.6 L779.5,958.5 L780.0,963.7 L780.5,969.3 L781.0,974.8 L781.5,980.9 L782.0,987.2 L782.5,993.8 L783.0,1000.6 L783.5,1007.5 L784.0,1014.4 L784.5,1021.2 L785.0,1027.6 L785.5,1033.6 L786.0,1039.4 L786.5,1045.1 L787.0,1050.7 L787.5,1056.4 L788.0,1062.0 L788.5,1067.7 L789.0,1073.4 L789.5,1079.2 L790.0,1085.1 L790.5,1091.0 L791.0,1097.1 L791.5,1103.4 L792.0,1109.8 L792.5,1116.4 L793.0,1123.1 L793.5,1129.8 L794.0,1136.5 L794.5,1143.3 L795.0,1149.9 L795.5,1156.5 L796.0,1162.9 L796.5,1169.2 L797.0,1175.3 L797.5,1181.2 L798.0,1187.2 L798.5,1193.4 L799.0,1199.6 L799.5,1205.8 L800.0,1211.8 L800.5,1217.6 L801.0,1223.1 L801.5,1228.1 L802.0,1232.6 L802.5,1236.5 L803.0,1239.7 L803.5,1242.3 L804.0,1244.7 L804.5,1246.9 L805.0,1249.0 L805.5,1250.9 L806.0,1252.7 L806.5,1254.3 L807.0,1255.8 L807.5,1257.2 L808.0,1258.5 L808.5,1259.6 L809.0,1260.7 L809.5,1261.7 L810.0,1262.8 L810.5,1263.8 L811.0,1264.8 L811.5,1265.7 L812.0,1266.5 L812.5,1267.2 L813.0,1267.8 L813.5,1268.2 L814.0,1268.5 L814.5,1268.6 L815.0,1268.6 L815.5,1268.6 L816.0,1268.6 L816.5,1268.6 L817.0,1268.6 L817.5,1268.6 L818.0,1268.6 L818.0,1289.2 Z" fill="#000" clip-path="url(#cE2)"/>
<path d="M774.6,1009.2 L775.4,981.2 L777.4,978.2 L778.2,965.2 L779.6,965.2 L780.6,987.2 L781.6,1011.2 Z" fill="#fff"/>
<path d="M738.0,1289.2 L738.0,1289.2 L739.0,1289.2 L740.0,1289.2 L741.0,1289.2 L742.0,1289.2 L743.0,1289.2 L744.0,1289.2 L745.0,1288.8 L746.0,1287.7 L747.0,1286.0 L748.0,1284.0 L749.0,1281.9 L750.0,1279.6 L751.0,1276.9 L752.0,1273.7 L753.0,1269.8 L754.0,1265.3 L755.0,1259.7 L756.0,1251.4 L757.0,1240.8 L758.0,1228.8 L759.0,1216.3 L760.0,1204.0 L761.0,1191.7 L762.0,1178.5 L763.0,1164.9 L764.0,1151.2 L765.0,1137.6 L766.0,1124.6 L767.0,1112.2 L768.0,1100.1 L769.0,1088.2 L770.0,1076.3 L771.0,1064.1 L772.0,1050.8 L773.0,1036.2 L774.0,1022.4 L775.0,1011.1 L776.0,1003.6 L777.0,997.7 L778.0,995.2 L779.0,997.7 L780.0,1003.6 L781.0,1011.1 L782.0,1022.4 L783.0,1036.2 L784.0,1050.8 L785.0,1064.1 L786.0,1076.3 L787.0,1088.2 L788.0,1100.1 L789.0,1112.2 L790.0,1124.6 L791.0,1137.6 L792.0,1151.2 L793.0,1164.9 L794.0,1178.5 L795.0,1191.7 L796.0,1204.0 L797.0,1216.3 L798.0,1228.8 L799.0,1240.8 L800.0,1251.4 L801.0,1259.7 L802.0,1265.3 L803.0,1269.8 L804.0,1273.7 L805.0,1276.9 L806.0,1279.6 L807.0,1281.9 L808.0,1284.0 L809.0,1286.0 L810.0,1287.7 L811.0,1288.8 L812.0,1289.2 L813.0,1289.2 L814.0,1289.2 L815.0,1289.2 L816.0,1289.2 L817.0,1289.2 L818.0,1289.2 L818.0,1289.2 Z" fill="#dc2a1c"/>
<path d="M866.0,1289.2 L866.0,1288.9 L867.0,1288.8 L868.0,1288.7 L869.0,1288.6 L870.0,1288.5 L871.0,1288.4 L872.0,1288.2 L873.0,1288.1 L874.0,1287.9 L875.0,1287.6 L876.0,1287.4 L877.0,1287.1 L878.0,1286.8 L879.0,1286.4 L880.0,1286.0 L881.0,1285.5 L882.0,1285.0 L883.0,1284.4 L884.0,1283.8 L885.0,1283.1 L886.0,1282.3 L887.0,1281.5 L888.0,1280.6 L889.0,1279.7 L890.0,1278.6 L891.0,1277.5 L892.0,1276.3 L893.0,1275.1 L894.0,1273.7 L895.0,1272.3 L896.0,1270.9 L897.0,1269.3 L898.0,1267.7 L899.0,1266.1 L900.0,1264.4 L901.0,1262.7 L902.0,1261.0 L903.0,1259.2 L904.0,1257.4 L905.0,1255.7 L906.0,1253.9 L907.0,1252.2 L908.0,1250.5 L909.0,1248.9 L910.0,1247.4 L911.0,1245.9 L912.0,1244.6 L913.0,1243.3 L914.0,1242.2 L915.0,1241.2 L916.0,1240.3 L917.0,1239.6 L918.0,1239.0 L919.0,1238.6 L920.0,1238.3 L921.0,1238.2 L922.0,1238.3 L923.0,1238.6 L924.0,1239.0 L925.0,1239.6 L926.0,1240.3 L927.0,1241.2 L928.0,1242.2 L929.0,1243.3 L930.0,1244.6 L931.0,1245.9 L932.0,1247.4 L933.0,1248.9 L934.0,1250.5 L935.0,1252.2 L936.0,1253.9 L937.0,1255.7 L938.0,1257.4 L939.0,1259.2 L940.0,1261.0 L941.0,1262.7 L942.0,1264.4 L943.0,1266.1 L944.0,1267.7 L945.0,1269.3 L946.0,1270.9 L947.0,1272.3 L948.0,1273.7 L949.0,1275.1 L950.0,1276.3 L951.0,1277.5 L952.0,1278.6 L953.0,1279.7 L954.0,1280.6 L955.0,1281.5 L956.0,1282.3 L957.0,1283.1 L958.0,1283.8 L959.0,1284.4 L960.0,1285.0 L961.0,1285.5 L962.0,1286.0 L963.0,1286.4 L964.0,1286.8 L965.0,1287.1 L966.0,1287.4 L967.0,1287.6 L968.0,1287.9 L969.0,1288.1 L970.0,1288.2 L971.0,1288.4 L972.0,1288.5 L973.0,1288.6 L974.0,1288.7 L975.0,1288.8 L976.0,1288.9 L976.0,1289.2 Z" fill="#dc2a1c"/>
<g clip-path="url(#cS2)"><rect x="733" y="1238.25" width="248" height="51" fill="url(#hb2)"/><g clip-path="url(#cR2)"><rect x="733" y="1238.25" width="248" height="51" fill="#dc2a1c"/><rect x="733" y="1238.25" width="248" height="51" fill="url(#hk2)"/></g></g>
<path d="M743.0,1289.2 L744.0,1289.2 L745.0,1289.2 L746.0,1289.2 L747.0,1289.2 L748.0,1289.2 L749.0,1289.2 L750.0,1289.2 L751.0,1289.2 L752.0,1289.2 L753.0,1289.2 L754.0,1289.2 L755.0,1289.2 L756.0,1289.1 L757.0,1289.1 L758.0,1289.0 L759.0,1288.8 L760.0,1288.7 L761.0,1288.5 L762.0,1288.2 L763.0,1287.9 L764.0,1287.4 L765.0,1286.9 L766.0,1286.2 L767.0,1285.4 L768.0,1284.4 L769.0,1283.3 L770.0,1282.0 L771.0,1280.5 L772.0,1278.8 L773.0,1277.0 L774.0,1275.1 L775.0,1273.0 L776.0,1270.8 L777.0,1268.5 L778.0,1266.2 L779.0,1264.0 L780.0,1261.7 L781.0,1259.5 L782.0,1257.4 L783.0,1255.5 L784.0,1253.7 L785.0,1252.0 L786.0,1250.5 L787.0,1249.2 L788.0,1248.1 L789.0,1247.1 L790.0,1246.3 L791.0,1245.6 L792.0,1245.1 L793.0,1244.6 L794.0,1244.3 L795.0,1244.0 L796.0,1243.8 L797.0,1243.7 L798.0,1243.5 L799.0,1243.4 L800.0,1243.4 L801.0,1243.3 L802.0,1243.3 L803.0,1243.3 L804.0,1243.3 L805.0,1243.3 L806.0,1243.3 L807.0,1243.3 L808.0,1243.3 L809.0,1243.3 L810.0,1243.3 L811.0,1243.3 L812.0,1243.3 L813.0,1243.3 L814.0,1243.3 L815.0,1243.3 L816.0,1243.3 L817.0,1243.3 L818.0,1243.3 L819.0,1243.3 L820.0,1243.3 L821.0,1243.3 L822.0,1243.3 L823.0,1243.3 L824.0,1243.3 L825.0,1243.3 L826.0,1243.3 L827.0,1243.3 L828.0,1243.3 L829.0,1243.3 L830.0,1243.3 L831.0,1243.3 L832.0,1243.3 L833.0,1243.3 L834.0,1243.3 L835.0,1243.3 L836.0,1243.3 L837.0,1243.3 L838.0,1243.3 L839.0,1243.3 L840.0,1243.3 L841.0,1243.3 L842.0,1243.3 L843.0,1243.3 L844.0,1243.3 L845.0,1243.3 L846.0,1243.3 L847.0,1243.3 L848.0,1243.3 L849.0,1243.3 L850.0,1243.3 L851.0,1243.3 L852.0,1243.3 L853.0,1243.3 L854.0,1243.3 L855.0,1243.3 L856.0,1243.3 L857.0,1243.3 L858.0,1243.3 L859.0,1243.3 L860.0,1243.3 L861.0,1243.3 L862.0,1243.3 L863.0,1243.3 L864.0,1243.3 L865.0,1243.3 L866.0,1243.3 L867.0,1243.3 L868.0,1243.3 L869.0,1243.3 L870.0,1243.3 L871.0,1243.3 L872.0,1243.3 L873.0,1243.3 L874.0,1243.3 L875.0,1243.3 L876.0,1243.3 L877.0,1243.3 L878.0,1243.3 L879.0,1243.3 L880.0,1243.3 L881.0,1243.3 L882.0,1243.3 L883.0,1243.3 L884.0,1243.3 L885.0,1243.3 L886.0,1243.3 L887.0,1243.4 L888.0,1243.4 L889.0,1243.4 L890.0,1243.5 L891.0,1243.5 L892.0,1243.6 L893.0,1243.7 L894.0,1243.8 L895.0,1243.9 L896.0,1244.1 L897.0,1244.3 L898.0,1244.5 L899.0,1244.8 L900.0,1245.1 L901.0,1245.4 L902.0,1245.9 L903.0,1246.3 L904.0,1246.8 L905.0,1247.4 L906.0,1248.1 L907.0,1248.8 L908.0,1249.7 L909.0,1250.5 L910.0,1251.5 L911.0,1252.6 L912.0,1253.7 L913.0,1254.9 L914.0,1256.1 L915.0,1257.4 L916.0,1258.8 L917.0,1260.2 L918.0,1261.7 L919.0,1263.2 L920.0,1264.7 L921.0,1266.2 L922.0,1267.8 L923.0,1269.3 L924.0,1270.8 L925.0,1272.3 L926.0,1273.7 L927.0,1275.1 L928.0,1276.4 L929.0,1277.6 L930.0,1278.8 L931.0,1279.9 L932.0,1281.0 L933.0,1282.0 L934.0,1282.8 L935.0,1283.7 L936.0,1284.4 L937.0,1285.1 L938.0,1285.7 L939.0,1286.2 L940.0,1286.6 L941.0,1287.1 L942.0,1287.4 L943.0,1287.7 L944.0,1288.0 L945.0,1288.2 L946.0,1288.4 L947.0,1288.6 L948.0,1288.7 L949.0,1288.8 L950.0,1288.9 L951.0,1289.0 L952.0,1289.0 L953.0,1289.1 L954.0,1289.1 L955.0,1289.1 L956.0,1289.2 L957.0,1289.2 L958.0,1289.2 L959.0,1289.2 L960.0,1289.2 L961.0,1289.2" fill="none" stroke="#201010" stroke-width="1.2"/>
<path d="M738.0,1289.2 L739.0,1289.2 L740.0,1289.2 L741.0,1289.2 L742.0,1289.2 L743.0,1289.2 L744.0,1289.2 L745.0,1288.8 L746.0,1287.7 L747.0,1286.0 L748.0,1284.0 L749.0,1281.9 L750.0,1279.6 L751.0,1276.9 L752.0,1273.7 L753.0,1269.8 L754.0,1265.3 L755.0,1259.7 L756.0,1251.4 L757.0,1240.8 L758.0,1228.8 L759.0,1216.3 L760.0,1204.0 L761.0,1191.7 L762.0,1178.5 L763.0,1164.9 L764.0,1151.2 L765.0,1137.6 L766.0,1124.6 L767.0,1112.2 L768.0,1100.1 L769.0,1088.2 L770.0,1076.3 L771.0,1064.1 L772.0,1050.8 L773.0,1036.2 L774.0,1022.4 L775.0,1011.1 L776.0,1003.6 L777.0,997.7 L778.0,995.2 L779.0,997.7 L780.0,1003.6 L781.0,1011.1 L782.0,1022.4 L783.0,1036.2 L784.0,1050.8 L785.0,1064.1 L786.0,1076.3 L787.0,1088.2 L788.0,1100.1 L789.0,1112.2 L790.0,1124.6 L791.0,1137.6 L792.0,1151.2 L793.0,1164.9 L794.0,1178.5 L795.0,1191.7 L796.0,1204.0 L797.0,1216.3 L798.0,1228.8 L799.0,1240.8 L800.0,1251.4 L801.0,1259.7 L802.0,1265.3 L803.0,1269.8 L804.0,1273.7 L805.0,1276.9 L806.0,1279.6 L807.0,1281.9 L808.0,1284.0 L809.0,1286.0 L810.0,1287.7 L811.0,1288.8 L812.0,1289.2 L813.0,1289.2 L814.0,1289.2 L815.0,1289.2 L816.0,1289.2 L817.0,1289.2 L818.0,1289.2" fill="none" stroke="#000" stroke-width="1.0"/>
<path d="M866.0,1288.9 L867.0,1288.8 L868.0,1288.7 L869.0,1288.6 L870.0,1288.5 L871.0,1288.4 L872.0,1288.2 L873.0,1288.1 L874.0,1287.9 L875.0,1287.6 L876.0,1287.4 L877.0,1287.1 L878.0,1286.8 L879.0,1286.4 L880.0,1286.0 L881.0,1285.5 L882.0,1285.0 L883.0,1284.4 L884.0,1283.8 L885.0,1283.1 L886.0,1282.3 L887.0,1281.5 L888.0,1280.6 L889.0,1279.7 L890.0,1278.6 L891.0,1277.5 L892.0,1276.3 L893.0,1275.1 L894.0,1273.7 L895.0,1272.3 L896.0,1270.9 L897.0,1269.3 L898.0,1267.7 L899.0,1266.1 L900.0,1264.4 L901.0,1262.7 L902.0,1261.0 L903.0,1259.2 L904.0,1257.4 L905.0,1255.7 L906.0,1253.9 L907.0,1252.2 L908.0,1250.5 L909.0,1248.9 L910.0,1247.4 L911.0,1245.9 L912.0,1244.6 L913.0,1243.3 L914.0,1242.2 L915.0,1241.2 L916.0,1240.3 L917.0,1239.6 L918.0,1239.0 L919.0,1238.6 L920.0,1238.3 L921.0,1238.2 L922.0,1238.3 L923.0,1238.6 L924.0,1239.0 L925.0,1239.6 L926.0,1240.3 L927.0,1241.2 L928.0,1242.2 L929.0,1243.3 L930.0,1244.6 L931.0,1245.9 L932.0,1247.4 L933.0,1248.9 L934.0,1250.5 L935.0,1252.2 L936.0,1253.9 L937.0,1255.7 L938.0,1257.4 L939.0,1259.2 L940.0,1261.0 L941.0,1262.7 L942.0,1264.4 L943.0,1266.1 L944.0,1267.7 L945.0,1269.3 L946.0,1270.9 L947.0,1272.3 L948.0,1273.7 L949.0,1275.1 L950.0,1276.3 L951.0,1277.5 L952.0,1278.6 L953.0,1279.7 L954.0,1280.6 L955.0,1281.5 L956.0,1282.3 L957.0,1283.1 L958.0,1283.8 L959.0,1284.4 L960.0,1285.0 L961.0,1285.5 L962.0,1286.0 L963.0,1286.4 L964.0,1286.8 L965.0,1287.1 L966.0,1287.4 L967.0,1287.6 L968.0,1287.9 L969.0,1288.1 L970.0,1288.2 L971.0,1288.4 L972.0,1288.5 L973.0,1288.6 L974.0,1288.7 L975.0,1288.8 L976.0,1288.9" fill="none" stroke="#301008" stroke-width="1.1"/>
<path d="M742.0,1289.2 L742.9,1288.6 L743.8,1284.8 L744.7,1289.2 L745.6,1282.1 L746.5,1283.3 L747.4,1281.9 L748.3,1278.1 L749.2,1274.5 L750.1,1272.9 L751.0,1269.5 L751.9,1267.3 L752.8,1256.8 L753.7,1256.6 L754.6,1247.6 L755.5,1237.5 L756.4,1228.1 L757.3,1213.6 L758.2,1204.3 L759.1,1191.4 L760.0,1182.0 L760.9,1171.5 L761.8,1158.2 L762.7,1145.5 L763.6,1131.2 L764.5,1121.0 L765.4,1108.3 L766.3,1099.1 L767.2,1086.1 L768.1,1071.2 L769.0,1059.0 L769.9,1054.2 L770.8,1036.2 L771.7,1019.0 L772.6,1008.3 L773.5,991.6 L774.4,978.5 L775.3,973.4 L776.2,963.6 L777.1,949.1 L778.0,934.9 L778.9,944.1 L779.8,945.0 L780.7,954.5 L781.6,967.5 L782.5,972.0 L783.4,987.6 L784.3,997.6 L785.2,1011.8 L786.1,1020.9 L787.0,1026.5 L787.9,1038.5 L788.8,1050.8 L789.7,1059.8 L790.6,1061.1 L791.5,1078.0 L792.4,1090.3 L793.3,1103.2 L794.2,1116.3 L795.1,1128.3 L796.0,1136.3 L796.9,1146.8 L797.8,1157.0 L798.7,1170.7 L799.6,1183.8 L800.5,1192.2 L801.4,1202.4 L802.3,1208.6 L803.2,1210.6 L804.1,1221.1 L805.0,1221.3 L805.9,1225.6 L806.8,1233.7 L807.7,1228.0 L808.6,1237.4 L809.5,1241.1 L810.4,1239.0 L811.3,1236.5 L812.2,1243.5 L813.1,1235.4 L814.0,1239.3 L814.9,1243.0 L815.8,1248.8 L816.7,1241.9 L817.6,1245.8 L818.5,1239.6 L819.4,1246.7 L820.3,1238.5 L821.2,1235.6 L822.1,1244.4 L823.0,1240.3 L823.9,1238.2 L824.8,1245.0 L825.7,1247.8 L826.6,1242.5 L827.5,1247.2 L828.4,1247.0 L829.3,1247.0 L830.2,1241.5 L831.1,1242.9 L832.0,1242.3 L832.9,1231.9 L833.8,1238.7 L834.7,1242.9 L835.6,1244.0 L836.5,1234.7 L837.4,1246.2 L838.3,1242.6 L839.2,1236.0 L840.1,1236.6 L841.0,1243.8 L841.9,1240.1 L842.8,1243.8 L843.7,1242.7 L844.6,1245.9 L845.5,1244.0 L846.4,1241.9 L847.3,1246.2 L848.2,1244.4 L849.1,1242.0 L850.0,1235.5 L850.9,1245.4 L851.8,1243.1 L852.7,1243.3 L853.6,1244.5 L854.5,1244.3 L855.4,1245.5 L856.3,1240.9 L857.2,1240.2 L858.1,1243.7 L859.0,1245.1 L859.9,1244.5 L860.8,1245.4 L861.7,1241.7 L862.6,1243.8 L863.5,1239.6 L864.4,1245.4 L865.3,1242.0 L866.2,1239.1 L867.1,1242.5 L868.0,1242.3 L868.9,1244.9 L869.8,1240.0 L870.7,1242.6 L871.6,1244.9 L872.5,1245.5 L873.4,1241.8 L874.3,1244.4 L875.2,1242.7 L876.1,1237.7 L877.0,1234.3 L877.9,1245.0 L878.8,1247.2 L879.7,1238.2 L880.6,1234.2 L881.5,1238.8 L882.4,1239.9 L883.3,1242.6 L884.2,1240.1 L885.1,1234.9 L886.0,1238.1 L886.9,1229.8 L887.8,1236.1 L888.7,1237.4 L889.6,1231.6 L890.5,1233.2 L891.4,1234.3 L892.3,1230.2 L893.2,1228.7 L894.1,1229.3 L895.0,1218.1 L895.9,1230.7 L896.8,1212.2 L897.7,1217.3 L898.6,1220.7 L899.5,1222.9 L900.4,1220.0 L901.3,1220.2 L902.2,1214.2 L903.1,1211.9 L904.0,1215.6 L904.9,1214.6 L905.8,1211.7 L906.7,1211.3 L907.6,1209.6 L908.5,1211.8 L909.4,1213.3 L910.3,1211.9 L911.2,1203.5 L912.1,1206.7 L913.0,1217.0 L913.9,1209.1 L914.8,1209.4 L915.7,1204.7 L916.6,1212.0 L917.5,1210.9 L918.4,1211.8 L919.3,1214.9 L920.2,1209.1 L921.1,1210.7 L922.0,1217.2 L922.9,1218.0 L923.8,1213.2 L924.7,1214.4 L925.6,1220.0 L926.5,1223.3 L927.4,1225.7 L928.3,1226.5 L929.2,1229.5 L930.1,1234.1 L931.0,1234.5 L931.9,1234.1 L932.8,1240.5 L933.7,1240.4 L934.6,1242.7 L935.5,1249.0 L936.4,1251.4 L937.3,1252.4 L938.2,1251.9 L939.1,1248.0 L940.0,1254.1 L940.9,1254.6 L941.8,1265.8 L942.7,1261.2 L943.6,1265.1 L944.5,1265.4 L945.4,1268.9 L946.3,1267.1 L947.2,1270.2 L948.1,1269.8 L949.0,1267.8 L949.9,1271.7 L950.8,1278.6 L951.7,1272.9 L952.6,1282.3 L953.5,1277.7 L954.4,1280.2 L955.3,1277.7 L956.2,1281.1 L957.1,1281.6 L958.0,1286.5 L958.9,1280.7 L959.8,1285.2 L960.7,1284.2 L961.6,1284.4 L962.5,1284.4 L963.4,1286.8 L964.3,1284.2 L965.2,1284.2 L966.1,1282.8 L967.0,1289.2 L967.9,1288.5 L968.8,1287.1 L969.7,1287.5 L970.6,1287.5 L971.5,1285.5 L972.4,1288.5 L973.3,1288.3 L974.2,1288.4 L975.1,1288.5 L976.0,1288.6 L976.9,1288.7 L977.8,1288.7 L978.7,1288.8 L979.6,1288.8 L980.5,1288.9 L981.4,1288.9 L982.3,1289.0" fill="none" stroke="#000" stroke-width="1.15" stroke-linejoin="round"/>
<path d="M740.0,1289.2 L741.0,1289.2 L742.0,1289.2 L743.0,1289.2 L744.0,1289.1 L745.0,1288.1 L746.0,1286.6 L747.0,1284.8 L748.0,1282.8 L749.0,1280.7 L750.0,1278.2 L751.0,1275.2 L752.0,1271.8 L753.0,1267.7 L754.0,1262.9 L755.0,1256.2 L756.0,1246.9 L757.0,1235.8 L758.0,1223.6 L759.0,1211.2 L760.0,1199.2 L761.0,1186.6 L762.0,1173.2 L763.0,1159.5 L764.0,1145.6 L765.0,1131.9 L766.0,1118.6 L767.0,1105.7 L768.0,1092.9 L769.0,1080.1 L770.0,1067.1 L771.0,1053.6 L772.0,1038.7 L773.0,1022.6 L774.0,1007.2 L775.0,994.3 L776.0,984.9 L777.0,976.9 L778.0,972.2 L779.0,972.4 L780.0,975.8 L781.0,980.8 L782.0,989.5 L783.0,1001.0 L784.0,1013.5 L785.0,1025.2 L786.0,1035.7 L787.0,1046.1 L788.0,1056.7 L789.0,1067.5 L790.0,1078.7 L791.0,1090.6 L792.0,1103.3 L793.0,1116.3 L794.0,1129.3 L795.0,1142.1 L796.0,1154.3 L797.0,1166.0 L798.0,1178.2 L799.0,1190.2 L800.0,1201.2 L801.0,1210.4 L802.0,1217.0 L803.0,1221.7 L804.0,1225.8 L805.0,1229.3 L806.0,1232.2 L807.0,1234.7 L808.0,1236.8 L809.0,1238.8 L810.0,1240.6 L811.0,1242.1 L812.0,1243.1 L813.0,1243.3 L814.0,1243.3 L815.0,1243.3 L816.0,1243.3 L817.0,1243.3 L818.0,1243.3 L819.0,1243.3 L820.0,1243.2 L821.0,1243.2 L822.0,1243.2 L823.0,1243.2 L824.0,1243.2 L825.0,1243.2 L826.0,1243.2 L827.0,1243.2 L828.0,1243.2 L829.0,1243.2 L830.0,1243.2 L831.0,1243.2 L832.0,1243.2 L833.0,1243.2 L834.0,1243.2 L835.0,1243.2 L836.0,1243.2 L837.0,1243.2 L838.0,1243.2 L839.0,1243.2 L840.0,1243.2 L841.0,1243.2 L842.0,1243.2 L843.0,1243.2 L844.0,1243.2 L845.0,1243.2 L846.0,1243.2 L847.0,1243.2 L848.0,1243.2 L849.0,1243.2 L850.0,1243.2 L851.0,1243.2 L852.0,1243.2 L853.0,1243.2 L854.0,1243.2 L855.0,1243.2 L856.0,1243.2 L857.0,1243.2 L858.0,1243.2 L859.0,1243.1 L860.0,1243.1 L861.0,1243.1 L862.0,1243.1 L863.0,1243.0 L864.0,1243.0 L865.0,1242.9 L866.0,1242.9 L867.0,1242.8 L868.0,1242.7 L869.0,1242.6 L870.0,1242.5 L871.0,1242.4 L872.0,1242.2 L873.0,1242.0 L874.0,1241.8 L875.0,1241.6 L876.0,1241.3 L877.0,1241.0 L878.0,1240.7 L879.0,1240.3 L880.0,1239.9 L881.0,1239.4 L882.0,1238.9 L883.0,1238.3 L884.0,1237.7 L885.0,1237.0 L886.0,1236.2 L887.0,1235.4 L888.0,1234.5 L889.0,1233.5 L890.0,1232.5 L891.0,1231.4 L892.0,1230.3 L893.0,1229.1 L894.0,1227.8 L895.0,1226.5 L896.0,1225.2 L897.0,1223.8 L898.0,1222.4 L899.0,1221.0 L900.0,1219.6 L901.0,1218.2 L902.0,1216.8 L903.0,1215.5 L904.0,1214.2 L905.0,1213.0 L906.0,1211.8 L907.0,1210.8 L908.0,1209.9 L909.0,1209.1 L910.0,1208.5 L911.0,1208.1 L912.0,1207.8 L913.0,1207.7 L914.0,1207.8 L915.0,1208.0 L916.0,1208.5 L917.0,1209.2 L918.0,1210.0 L919.0,1211.1 L920.0,1212.4 L921.0,1213.8 L922.0,1215.4 L923.0,1217.1 L924.0,1219.0 L925.0,1221.1 L926.0,1223.2 L927.0,1225.5 L928.0,1227.8 L929.0,1230.2 L930.0,1232.7 L931.0,1235.2 L932.0,1237.7 L933.0,1240.3 L934.0,1242.8 L935.0,1245.3 L936.0,1247.8 L937.0,1250.2 L938.0,1252.6 L939.0,1255.0 L940.0,1257.2 L941.0,1259.4 L942.0,1261.5 L943.0,1263.6 L944.0,1265.5 L945.0,1267.4 L946.0,1269.1 L947.0,1270.8 L948.0,1272.4 L949.0,1273.9 L950.0,1275.3 L951.0,1276.6 L952.0,1277.8 L953.0,1278.9 L954.0,1280.0 L955.0,1280.9 L956.0,1281.8 L957.0,1282.6 L958.0,1283.4 L959.0,1284.0 L960.0,1284.6 L961.0,1285.2 L962.0,1285.7 L963.0,1286.1 L964.0,1286.5 L965.0,1286.9 L966.0,1287.2 L967.0,1287.5 L968.0,1287.7 L969.0,1287.9 L970.0,1288.1 L971.0,1288.3 L972.0,1288.4 L973.0,1288.5 L974.0,1288.7 L975.0,1288.7 L976.0,1288.8 L977.0,1288.9 L978.0,1289.0 L979.0,1289.0" fill="none" stroke="#000" stroke-width="1.1"/>
<line x1="602.50" y1="874.50" x2="602.50" y2="1289.25" stroke="#111" stroke-width="1.4" stroke-linecap="butt"/>
<line x1="590.00" y1="1289.25" x2="1077.94" y2="1289.25" stroke="#111" stroke-width="1.4" stroke-linecap="butt"/>
<line x1="602.50" y1="1289.25" x2="602.50" y2="1301.25" stroke="#111" stroke-width="1.4" stroke-linecap="butt"/>
<line x1="622.31" y1="1289.25" x2="622.31" y2="1296.25" stroke="#111" stroke-width="1.4" stroke-linecap="butt"/>
<line x1="642.12" y1="1289.25" x2="642.12" y2="1296.25" stroke="#111" stroke-width="1.4" stroke-linecap="butt"/>
<line x1="661.93" y1="1289.25" x2="661.93" y2="1296.25" stroke="#111" stroke-width="1.4" stroke-linecap="butt"/>
<line x1="681.74" y1="1289.25" x2="681.74" y2="1296.25" stroke="#111" stroke-width="1.4" stroke-linecap="butt"/>
<line x1="701.55" y1="1289.25" x2="701.55" y2="1301.25" stroke="#111" stroke-width="1.4" stroke-linecap="butt"/>
<line x1="721.36" y1="1289.25" x2="721.36" y2="1296.25" stroke="#111" stroke-width="1.4" stroke-linecap="butt"/>
<line x1="741.17" y1="1289.25" x2="741.17" y2="1296.25" stroke="#111" stroke-width="1.4" stroke-linecap="butt"/>
<line x1="760.98" y1="1289.25" x2="760.98" y2="1296.25" stroke="#111" stroke-width="1.4" stroke-linecap="butt"/>
<line x1="780.79" y1="1289.25" x2="780.79" y2="1296.25" stroke="#111" stroke-width="1.4" stroke-linecap="butt"/>
<line x1="800.60" y1="1289.25" x2="800.60" y2="1301.25" stroke="#111" stroke-width="1.4" stroke-linecap="butt"/>
<line x1="820.41" y1="1289.25" x2="820.41" y2="1296.25" stroke="#111" stroke-width="1.4" stroke-linecap="butt"/>
<line x1="840.22" y1="1289.25" x2="840.22" y2="1296.25" stroke="#111" stroke-width="1.4" stroke-linecap="butt"/>
<line x1="860.03" y1="1289.25" x2="860.03" y2="1296.25" stroke="#111" stroke-width="1.4" stroke-linecap="butt"/>
<line x1="879.84" y1="1289.25" x2="879.84" y2="1296.25" stroke="#111" stroke-width="1.4" stroke-linecap="butt"/>
<line x1="899.65" y1="1289.25" x2="899.65" y2="1301.25" stroke="#111" stroke-width="1.4" stroke-linecap="butt"/>
<line x1="919.46" y1="1289.25" x2="919.46" y2="1296.25" stroke="#111" stroke-width="1.4" stroke-linecap="butt"/>
<line x1="939.27" y1="1289.25" x2="939.27" y2="1296.25" stroke="#111" stroke-width="1.4" stroke-linecap="butt"/>
<line x1="959.08" y1="1289.25" x2="959.08" y2="1296.25" stroke="#111" stroke-width="1.4" stroke-linecap="butt"/>
<line x1="978.89" y1="1289.25" x2="978.89" y2="1296.25" stroke="#111" stroke-width="1.4" stroke-linecap="butt"/>
<line x1="998.70" y1="1289.25" x2="998.70" y2="1301.25" stroke="#111" stroke-width="1.4" stroke-linecap="butt"/>
<line x1="1018.51" y1="1289.25" x2="1018.51" y2="1296.25" stroke="#111" stroke-width="1.4" stroke-linecap="butt"/>
<line x1="1038.32" y1="1289.25" x2="1038.32" y2="1296.25" stroke="#111" stroke-width="1.4" stroke-linecap="butt"/>
<line x1="1058.13" y1="1289.25" x2="1058.13" y2="1296.25" stroke="#111" stroke-width="1.4" stroke-linecap="butt"/>
<line x1="1077.94" y1="1289.25" x2="1077.94" y2="1296.25" stroke="#111" stroke-width="1.4" stroke-linecap="butt"/>
<line x1="590.00" y1="1289.25" x2="602.50" y2="1289.25" stroke="#111" stroke-width="1.4" stroke-linecap="butt"/>
<line x1="596.50" y1="1271.92" x2="602.50" y2="1271.92" stroke="#111" stroke-width="1.4" stroke-linecap="butt"/>
<line x1="596.50" y1="1254.59" x2="602.50" y2="1254.59" stroke="#111" stroke-width="1.4" stroke-linecap="butt"/>
<line x1="596.50" y1="1237.26" x2="602.50" y2="1237.26" stroke="#111" stroke-width="1.4" stroke-linecap="butt"/>
<line x1="596.50" y1="1219.93" x2="602.50" y2="1219.93" stroke="#111" stroke-width="1.4" stroke-linecap="butt"/>
<line x1="590.00" y1="1202.60" x2="602.50" y2="1202.60" stroke="#111" stroke-width="1.4" stroke-linecap="butt"/>
<line x1="596.50" y1="1185.27" x2="602.50" y2="1185.27" stroke="#111" stroke-width="1.4" stroke-linecap="butt"/>
<line x1="596.50" y1="1167.94" x2="602.50" y2="1167.94" stroke="#111" stroke-width="1.4" stroke-linecap="butt"/>
<line x1="596.50" y1="1150.61" x2="602.50" y2="1150.61" stroke="#111" stroke-width="1.4" stroke-linecap="butt"/>
<line x1="596.50" y1="1133.28" x2="602.50" y2="1133.28" stroke="#111" stroke-width="1.4" stroke-linecap="butt"/>
<line x1="590.00" y1="1115.95" x2="602.50" y2="1115.95" stroke="#111" stroke-width="1.4" stroke-linecap="butt"/>
<line x1="596.50" y1="1098.62" x2="602.50" y2="1098.62" stroke="#111" stroke-width="1.4" stroke-linecap="butt"/>
<line x1="596.50" y1="1081.29" x2="602.50" y2="1081.29" stroke="#111" stroke-width="1.4" stroke-linecap="butt"/>
<line x1="596.50" y1="1063.96" x2="602.50" y2="1063.96" stroke="#111" stroke-width="1.4" stroke-linecap="butt"/>
<line x1="596.50" y1="1046.63" x2="602.50" y2="1046.63" stroke="#111" stroke-width="1.4" stroke-linecap="butt"/>
<line x1="590.00" y1="1029.30" x2="602.50" y2="1029.30" stroke="#111" stroke-width="1.4" stroke-linecap="butt"/>
<line x1="596.50" y1="1011.97" x2="602.50" y2="1011.97" stroke="#111" stroke-width="1.4" stroke-linecap="butt"/>
<line x1="596.50" y1="994.64" x2="602.50" y2="994.64" stroke="#111" stroke-width="1.4" stroke-linecap="butt"/>
<line x1="596.50" y1="977.31" x2="602.50" y2="977.31" stroke="#111" stroke-width="1.4" stroke-linecap="butt"/>
<line x1="596.50" y1="959.98" x2="602.50" y2="959.98" stroke="#111" stroke-width="1.4" stroke-linecap="butt"/>
<line x1="590.00" y1="942.65" x2="602.50" y2="942.65" stroke="#111" stroke-width="1.4" stroke-linecap="butt"/>
<line x1="596.50" y1="925.32" x2="602.50" y2="925.32" stroke="#111" stroke-width="1.4" stroke-linecap="butt"/>
<line x1="596.50" y1="907.99" x2="602.50" y2="907.99" stroke="#111" stroke-width="1.4" stroke-linecap="butt"/>
<line x1="596.50" y1="890.66" x2="602.50" y2="890.66" stroke="#111" stroke-width="1.4" stroke-linecap="butt"/>
<text x="602.5" y="1315.2" font-family='"Liberation Sans", sans-serif' font-size="11.5" text-anchor="middle" fill="#2e1e2e" stroke="#2e1e2e" stroke-width="0.3" textLength="7" lengthAdjust="spacingAndGlyphs">0</text>
<text x="701.5" y="1315.2" font-family='"Liberation Sans", sans-serif' font-size="11.5" text-anchor="middle" fill="#2e1e2e" stroke="#2e1e2e" stroke-width="0.3" textLength="13" lengthAdjust="spacingAndGlyphs">50</text>
<text x="800.6" y="1315.2" font-family='"Liberation Sans", sans-serif' font-size="11.5" text-anchor="middle" fill="#2e1e2e" stroke="#2e1e2e" stroke-width="0.3" textLength="19" lengthAdjust="spacingAndGlyphs">100</text>
<text x="899.7" y="1315.2" font-family='"Liberation Sans", sans-serif' font-size="11.5" text-anchor="middle" fill="#2e1e2e" stroke="#2e1e2e" stroke-width="0.3" textLength="19" lengthAdjust="spacingAndGlyphs">150</text>
<text x="998.7" y="1315.2" font-family='"Liberation Sans", sans-serif' font-size="11.5" text-anchor="middle" fill="#2e1e2e" stroke="#2e1e2e" stroke-width="0.3" textLength="19" lengthAdjust="spacingAndGlyphs">200</text>
<text transform="translate(588.0,1289.2) rotate(-90)" font-family='"Liberation Sans", sans-serif' font-size="11.5" text-anchor="middle" fill="#2e1e2e" stroke="#2e1e2e" stroke-width="0.3" textLength="7" lengthAdjust="spacingAndGlyphs">0</text>
<text transform="translate(588.0,1202.6) rotate(-90)" font-family='"Liberation Sans", sans-serif' font-size="11.5" text-anchor="middle" fill="#2e1e2e" stroke="#2e1e2e" stroke-width="0.3" textLength="17" lengthAdjust="spacingAndGlyphs">100</text>
<text transform="translate(588.0,1116.0) rotate(-90)" font-family='"Liberation Sans", sans-serif' font-size="11.5" text-anchor="middle" fill="#2e1e2e" stroke="#2e1e2e" stroke-width="0.3" textLength="17" lengthAdjust="spacingAndGlyphs">200</text>
<text transform="translate(588.0,1029.3) rotate(-90)" font-family='"Liberation Sans", sans-serif' font-size="11.5" text-anchor="middle" fill="#2e1e2e" stroke="#2e1e2e" stroke-width="0.3" textLength="17" lengthAdjust="spacingAndGlyphs">300</text>
<text transform="translate(588.0,942.6) rotate(-90)" font-family='"Liberation Sans", sans-serif' font-size="11.5" text-anchor="middle" fill="#2e1e2e" stroke="#2e1e2e" stroke-width="0.3" textLength="17" lengthAdjust="spacingAndGlyphs">400</text>
<text transform="translate(731.63,1331.02) scale(1.0439,1)" font-family='"Liberation Sans", sans-serif' font-weight="normal" font-size="16.58" fill="#443434" stroke="#443434" stroke-width="0.3">Channels (FL3 Lin-FL3 LIN)</text>
<text transform="translate(573.34,1110.35) rotate(-90) scale(1.0806,1)" font-family='"Liberation Sans", sans-serif' font-weight="normal" font-size="15.65" fill="#3a2828" stroke="#3a2828" stroke-width="0.3">Number</text>
<path d="M778.8,1291.2 L786.8,1305.2 L770.8,1305.2 Z" fill="#000"/>
<rect x="973.6" y="858.6" width="19" height="13" fill="#dc2a1c" stroke="#1a0804" stroke-width="1.6"/>
<text x="1003.6" y="869.9" font-family='"Liberation Sans", sans-serif' font-size="12.5" fill="#5252c6" stroke="#5252c6" stroke-width="0.35" textLength="38" lengthAdjust="spacingAndGlyphs">Dip G1</text>
<rect x="973.6" y="875.1" width="19" height="13" fill="#dc2a1c" stroke="#1a0804" stroke-width="1.6"/>
<text x="1003.6" y="886.4" font-family='"Liberation Sans", sans-serif' font-size="12.5" fill="#5252c6" stroke="#5252c6" stroke-width="0.35" textLength="39.5" lengthAdjust="spacingAndGlyphs">Dip G2</text>
<rect x="973.6" y="891.6" width="19" height="13" fill="#fff" stroke="#080808" stroke-width="1.6"/>
<line x1="985.6" y1="892.6" x2="991.6" y2="897.6" stroke="#4450c8" stroke-width="1.2"/>
<line x1="975.6" y1="893.1" x2="987.6" y2="903.6" stroke="#4450c8" stroke-width="1.3"/>
<text x="1003.6" y="902.9" font-family='"Liberation Sans", sans-serif' font-size="12.5" fill="#5252c6" stroke="#5252c6" stroke-width="0.35" textLength="31" lengthAdjust="spacingAndGlyphs">Dip S</text>
<text transform="translate(676.52,819.99) scale(1.1047,1)" font-family='"Liberation Sans", sans-serif' font-weight="bold" font-size="31.02" fill="#000" >miR-17-92 plasmid</text>
</g>
</g>
<g id="panelA">
<text transform="translate(4.10,34.75) scale(1.0299,1)" font-family='"Liberation Sans", sans-serif' font-weight="bold" font-size="44.57" fill="#000" >A</text>
<line x1="179.00" y1="328.80" x2="179.00" y2="333.00" stroke="#000" stroke-width="4.5" stroke-linecap="butt"/>
<line x1="166.65" y1="328.80" x2="191.50" y2="328.80" stroke="#000" stroke-width="4.5" stroke-linecap="round"/>
<path d="M153.00,538.00 L153.00,333.00 L205.00,333.00 L205.00,538.00" fill="#fff" stroke="#000" stroke-width="6" stroke-linejoin="round"/>
<line x1="384.00" y1="328.30" x2="384.00" y2="333.00" stroke="#000" stroke-width="4.5" stroke-linecap="butt"/>
<line x1="371.75" y1="328.30" x2="395.75" y2="328.30" stroke="#000" stroke-width="4.5" stroke-linecap="round"/>
<path d="M358.50,538.00 L358.50,333.00 L409.50,333.00 L409.50,538.00" fill="#fff" stroke="#000" stroke-width="6" stroke-linejoin="round"/>
<line x1="588.75" y1="320.00" x2="588.75" y2="333.00" stroke="#000" stroke-width="4.5" stroke-linecap="butt"/>
<line x1="576.75" y1="320.00" x2="600.75" y2="320.00" stroke="#000" stroke-width="4.5" stroke-linecap="round"/>
<path d="M563.50,538.00 L563.50,333.00 L614.50,333.00 L614.50,538.00" fill="#fff" stroke="#000" stroke-width="6" stroke-linejoin="round"/>
<line x1="256.00" y1="315.00" x2="256.00" y2="321.75" stroke="#000" stroke-width="4.5" stroke-linecap="butt"/>
<line x1="244.25" y1="315.00" x2="268.25" y2="315.00" stroke="#000" stroke-width="4.5" stroke-linecap="round"/>
<path d="M227.00,538.00 L227.00,321.25 Q227.00,318.75 229.50,318.75 L282.50,318.75 Q285.00,318.75 285.00,321.25 L285.00,538.00 Z" fill="#000"/>
<line x1="461.00" y1="263.25" x2="461.00" y2="278.75" stroke="#000" stroke-width="4.5" stroke-linecap="butt"/>
<line x1="448.25" y1="263.25" x2="473.50" y2="263.25" stroke="#000" stroke-width="4.5" stroke-linecap="round"/>
<path d="M432.50,538.00 L432.50,278.25 Q432.50,275.75 435.00,275.75 L487.50,275.75 Q490.00,275.75 490.00,278.25 L490.00,538.00 Z" fill="#000"/>
<line x1="665.75" y1="217.00" x2="665.75" y2="236.00" stroke="#000" stroke-width="4.5" stroke-linecap="butt"/>
<line x1="653.25" y1="217.00" x2="678.25" y2="217.00" stroke="#000" stroke-width="4.5" stroke-linecap="round"/>
<path d="M637.50,538.00 L637.50,235.50 Q637.50,233.00 640.00,233.00 L692.00,233.00 Q694.50,233.00 694.50,235.50 L694.50,538.00 Z" fill="#000"/>
<rect x="112.00" y="124.50" width="6.00" height="416.50" fill="#000" />
<rect x="99.50" y="535.00" width="630.50" height="6.00" fill="#000" />
<rect x="99.50" y="124.50" width="15.50" height="6.00" fill="#000" />
<rect x="99.50" y="227.10" width="15.50" height="6.00" fill="#000" />
<rect x="99.50" y="329.80" width="15.50" height="6.00" fill="#000" />
<rect x="99.50" y="432.40" width="15.50" height="6.00" fill="#000" />
<rect x="214.50" y="538.00" width="6.00" height="15.75" fill="#000" />
<rect x="419.50" y="538.00" width="6.00" height="15.75" fill="#000" />
<rect x="624.50" y="538.00" width="6.00" height="15.75" fill="#000" />
<text transform="translate(40.67,139.05) scale(1.0007,1)" font-family='"Liberation Sans", sans-serif' font-weight="bold" font-size="35.21" fill="#000" >200</text>
<text transform="translate(40.82,241.90) scale(0.9981,1)" font-family='"Liberation Sans", sans-serif' font-weight="bold" font-size="35.21" fill="#000" >150</text>
<text transform="translate(40.82,344.65) scale(0.9981,1)" font-family='"Liberation Sans", sans-serif' font-weight="bold" font-size="35.21" fill="#000" >100</text>
<text transform="translate(61.47,447.15) scale(0.9820,1)" font-family='"Liberation Sans", sans-serif' font-weight="bold" font-size="34.86" fill="#000" >50</text>
<text transform="translate(81.19,549.65) scale(0.9327,1)" font-family='"Liberation Sans", sans-serif' font-weight="bold" font-size="35.21" fill="#000" >0</text>
<text transform="translate(31.20,532.81) rotate(-90) scale(0.9296,1)" font-family='"Liberation Sans", sans-serif' font-weight="bold" font-size="34.76" fill="#000" >% of Control (cell viability)</text>
<line x1="182.25" y1="299.50" x2="257.75" y2="299.50" stroke="#000" stroke-width="4.5" stroke-linecap="round"/>
<line x1="386.75" y1="244.30" x2="461.50" y2="244.30" stroke="#000" stroke-width="4.5" stroke-linecap="round"/>
<line x1="588.25" y1="195.75" x2="663.25" y2="195.75" stroke="#000" stroke-width="4.5" stroke-linecap="round"/>
<text transform="translate(204.23,289.84) scale(0.9277,1)" font-family='"Liberation Sans", sans-serif' font-weight="bold" font-size="36.00" fill="#000" >ns</text>
<text transform="translate(412.84,240.51) scale(1.0921,1)" font-family='"Liberation Sans", sans-serif' font-weight="bold" font-size="29.73" fill="#000" >**</text>
<text transform="translate(612.33,193.45) scale(1.0655,1)" font-family='"Liberation Sans", sans-serif' font-weight="bold" font-size="31.08" fill="#000" >**</text>
<rect x="153" y="70.1" width="43.6" height="23.15" fill="#fff" stroke="#000" stroke-width="6"/>
<rect x="150.90" y="109.00" width="49.70" height="29.50" fill="#000" />
<text transform="translate(219.81,93.65) scale(1.0340,1)" font-family='"Liberation Sans", sans-serif' font-weight="bold" font-size="32.62" fill="#000" >pcDNA3.1 plasmid</text>
<text transform="translate(220.80,135.65) scale(1.0371,1)" font-family='"Liberation Sans", sans-serif' font-weight="bold" font-size="32.62" fill="#000" >miR-17-92 plasmid</text>
<text transform="translate(226.60,575.20) scale(1.0800,1) rotate(-45)" font-family='"Liberation Sans", sans-serif' font-weight="bold" font-size="31.50" text-anchor="end" fill="#000">12h</text>
<text transform="translate(431.60,575.20) scale(1.0800,1) rotate(-45)" font-family='"Liberation Sans", sans-serif' font-weight="bold" font-size="31.50" text-anchor="end" fill="#000">24h</text>
<text transform="translate(636.60,575.20) scale(1.0800,1) rotate(-45)" font-family='"Liberation Sans", sans-serif' font-weight="bold" font-size="31.50" text-anchor="end" fill="#000">48h</text>
</g>
<g id="panelC">
<text transform="translate(1254.31,34.07) scale(0.9862,1)" font-family='"Liberation Sans", sans-serif' font-weight="bold" font-size="42.96" fill="#000" >C</text>
<line x1="1630.60" y1="357.80" x2="1630.60" y2="388.00" stroke="#000" stroke-width="4.4" stroke-linecap="butt"/>
<line x1="1608.20" y1="357.80" x2="1652.55" y2="357.80" stroke="#000" stroke-width="4.4" stroke-linecap="round"/>
<path d="M1584.90,513.80 L1584.90,388.00 L1675.75,388.00 L1675.75,513.80" fill="#fff" stroke="#000" stroke-width="6" stroke-linejoin="round"/>
<line x1="1767.60" y1="272.00" x2="1767.60" y2="295.00" stroke="#000" stroke-width="4.4" stroke-linecap="butt"/>
<line x1="1744.95" y1="272.00" x2="1789.30" y2="272.00" stroke="#000" stroke-width="4.4" stroke-linecap="round"/>
<path d="M1718.75,513.80 L1718.75,294.75 Q1718.75,292.25 1721.25,292.25 L1813.10,292.25 Q1815.60,292.25 1815.60,294.75 L1815.60,513.80 Z" fill="#000"/>
<rect x="1560.30" y="100.10" width="4.30" height="415.90" fill="#000" />
<rect x="1550.20" y="511.60" width="285.40" height="4.40" fill="#000" />
<rect x="1550.50" y="100.20" width="12.00" height="4.20" fill="#000" />
<rect x="1550.50" y="203.10" width="12.00" height="4.20" fill="#000" />
<rect x="1550.50" y="305.90" width="12.00" height="4.20" fill="#000" />
<rect x="1550.50" y="408.80" width="12.00" height="4.20" fill="#000" />
<rect x="1628.40" y="514.00" width="4.40" height="12.25" fill="#000" />
<rect x="1765.40" y="514.00" width="4.40" height="12.25" fill="#000" />
<text transform="translate(1487.69,114.39) scale(0.9796,1)" font-family='"Liberation Sans", sans-serif' font-weight="bold" font-size="36.27" fill="#000" >100</text>
<text transform="translate(1507.16,217.14) scale(0.9921,1)" font-family='"Liberation Sans", sans-serif' font-weight="bold" font-size="35.71" fill="#000" >75</text>
<text transform="translate(1507.69,319.65) scale(1.0063,1)" font-family='"Liberation Sans", sans-serif' font-weight="bold" font-size="35.21" fill="#000" >50</text>
<text transform="translate(1506.85,423.25) scale(1.0062,1)" font-family='"Liberation Sans", sans-serif' font-weight="bold" font-size="35.49" fill="#000" >25</text>
<text transform="translate(1527.33,525.54) scale(0.9819,1)" font-family='"Liberation Sans", sans-serif' font-weight="bold" font-size="36.13" fill="#000" >0</text>
<text transform="translate(1761.74,271.41) scale(1.0017,1)" font-family='"Liberation Sans", sans-serif' font-weight="bold" font-size="32.84" fill="#000" >*</text>
<text transform="translate(1480.93,524.25) rotate(-90) scale(0.9726,1)" font-family='"Liberation Sans", sans-serif' font-weight="bold" font-size="34.04" fill="#000" >Percentage of EdU</text>
<text transform="translate(1469.00,227.84) rotate(-90) scale(0.8969,1)" font-family='"Liberation Sans", sans-serif' font-weight="bold" font-size="26.27" fill="#000" >+</text>
<text transform="translate(1481.30,206.94) rotate(-90) scale(0.9468,1)" font-family='"Liberation Sans", sans-serif' font-weight="bold" font-size="35.45" fill="#000" >cells (%)</text>
<text transform="translate(1250.80,588.26) scale(1.0539,1)" font-family='"Liberation Sans", sans-serif' font-weight="bold" font-size="32.09" fill="#000" >pcDNA3.1 plasmid</text>
<text transform="translate(1247.30,647.21) scale(1.0475,1)" font-family='"Liberation Sans", sans-serif' font-weight="bold" font-size="32.35" fill="#000" >miR-17-92 plasmid</text>
<text transform="translate(1619.97,589.78) scale(1.0327,1)" font-family='"Liberation Sans", sans-serif' font-weight="bold" font-size="34.71" fill="#000" >+</text>
<text transform="translate(1764.13,588.33) scale(0.8589,1)" font-family='"Liberation Sans", sans-serif' font-weight="bold" font-size="42.92" fill="#000" >-</text>
<text transform="translate(1624.72,648.87) scale(0.8824,1)" font-family='"Liberation Sans", sans-serif' font-weight="bold" font-size="43.33" fill="#000" >-</text>
<text transform="translate(1760.22,645.05) scale(0.9844,1)" font-family='"Liberation Sans", sans-serif' font-weight="bold" font-size="35.00" fill="#000" >+</text>
</g>
<g id="panelE">
<text transform="translate(1130.33,794.50) scale(0.9234,1)" font-family='"Liberation Sans", sans-serif' font-weight="bold" font-size="44.57" fill="#000" >E</text>
<line x1="1286.50" y1="891.75" x2="1286.50" y2="904.25" stroke="#000" stroke-width="4.5" stroke-linecap="butt"/>
<line x1="1274.25" y1="891.75" x2="1298.25" y2="891.75" stroke="#000" stroke-width="4.5" stroke-linecap="round"/>
<path d="M1260.50,1240.00 L1260.50,904.25 L1311.50,904.25 L1311.50,1240.00" fill="#fff" stroke="#000" stroke-width="6" stroke-linejoin="round"/>
<line x1="1490.60" y1="1113.75" x2="1490.60" y2="1124.00" stroke="#000" stroke-width="4.5" stroke-linecap="butt"/>
<line x1="1478.75" y1="1113.75" x2="1503.00" y2="1113.75" stroke="#000" stroke-width="4.5" stroke-linecap="round"/>
<path d="M1465.00,1240.00 L1465.00,1124.00 L1516.25,1124.00 L1516.25,1240.00" fill="#fff" stroke="#000" stroke-width="6" stroke-linejoin="round"/>
<line x1="1695.60" y1="1170.00" x2="1695.60" y2="1180.25" stroke="#000" stroke-width="4.5" stroke-linecap="butt"/>
<line x1="1683.50" y1="1170.00" x2="1707.75" y2="1170.00" stroke="#000" stroke-width="4.5" stroke-linecap="round"/>
<path d="M1670.00,1240.00 L1670.00,1180.25 L1721.25,1180.25 L1721.25,1240.00" fill="#fff" stroke="#000" stroke-width="6" stroke-linejoin="round"/>
<line x1="1363.00" y1="1004.50" x2="1363.00" y2="1016.00" stroke="#000" stroke-width="4.5" stroke-linecap="butt"/>
<line x1="1351.00" y1="1004.50" x2="1375.25" y2="1004.50" stroke="#000" stroke-width="4.5" stroke-linecap="round"/>
<path d="M1334.25,1240.00 L1334.25,1015.50 Q1334.25,1013.00 1336.75,1013.00 L1389.25,1013.00 Q1391.75,1013.00 1391.75,1015.50 L1391.75,1240.00 Z" fill="#000"/>
<line x1="1567.75" y1="1043.75" x2="1567.75" y2="1052.25" stroke="#000" stroke-width="4.5" stroke-linecap="butt"/>
<line x1="1555.50" y1="1043.75" x2="1579.75" y2="1043.75" stroke="#000" stroke-width="4.5" stroke-linecap="round"/>
<path d="M1539.25,1240.00 L1539.25,1051.75 Q1539.25,1049.25 1541.75,1049.25 L1593.75,1049.25 Q1596.25,1049.25 1596.25,1051.75 L1596.25,1240.00 Z" fill="#000"/>
<line x1="1772.50" y1="1121.00" x2="1772.50" y2="1139.75" stroke="#000" stroke-width="4.5" stroke-linecap="butt"/>
<line x1="1760.25" y1="1121.00" x2="1784.50" y2="1121.00" stroke="#000" stroke-width="4.5" stroke-linecap="round"/>
<path d="M1743.75,1240.00 L1743.75,1139.25 Q1743.75,1136.75 1746.25,1136.75 L1798.75,1136.75 Q1801.25,1136.75 1801.25,1139.25 L1801.25,1240.00 Z" fill="#000"/>
<rect x="1219.00" y="826.50" width="6.00" height="416.50" fill="#000" />
<rect x="1206.00" y="1237.00" width="631.00" height="6.00" fill="#000" />
<rect x="1206.00" y="826.50" width="16.00" height="6.00" fill="#000" />
<rect x="1206.00" y="929.10" width="16.00" height="6.00" fill="#000" />
<rect x="1206.00" y="1031.80" width="16.00" height="6.00" fill="#000" />
<rect x="1206.00" y="1134.40" width="16.00" height="6.00" fill="#000" />
<rect x="1320.75" y="1240.00" width="6.00" height="16.00" fill="#000" />
<rect x="1526.25" y="1240.00" width="6.00" height="16.00" fill="#000" />
<rect x="1731.25" y="1240.00" width="6.00" height="16.00" fill="#000" />
<text transform="translate(1170.98,841.17) scale(0.9292,1)" font-family='"Liberation Sans", sans-serif' font-weight="bold" font-size="32.96" fill="#000" >80</text>
<text transform="translate(1170.82,944.07) scale(0.9337,1)" font-family='"Liberation Sans", sans-serif' font-weight="bold" font-size="32.96" fill="#000" >60</text>
<text transform="translate(1171.45,1046.77) scale(0.9160,1)" font-family='"Liberation Sans", sans-serif' font-weight="bold" font-size="32.96" fill="#000" >40</text>
<text transform="translate(1170.82,1149.37) scale(0.9337,1)" font-family='"Liberation Sans", sans-serif' font-weight="bold" font-size="32.96" fill="#000" >20</text>
<text transform="translate(1188.30,1252.07) scale(0.9103,1)" font-family='"Liberation Sans", sans-serif' font-weight="bold" font-size="32.96" fill="#000" >0</text>
<text transform="translate(1159.51,1233.81) rotate(-90) scale(0.9296,1)" font-family='"Liberation Sans", sans-serif' font-weight="bold" font-size="35.19" fill="#000" >Cell-cycle distribution (%)</text>
<line x1="1282.25" y1="872.50" x2="1357.00" y2="872.50" stroke="#000" stroke-width="4.5" stroke-linecap="round"/>
<line x1="1492.25" y1="1023.00" x2="1567.25" y2="1023.00" stroke="#000" stroke-width="4.5" stroke-linecap="round"/>
<line x1="1699.25" y1="1103.50" x2="1774.50" y2="1103.50" stroke="#000" stroke-width="4.5" stroke-linecap="round"/>
<text transform="translate(1301.74,869.17) scale(1.1284,1)" font-family='"Liberation Sans", sans-serif' font-weight="bold" font-size="28.65" fill="#000" >***</text>
<text transform="translate(1512.34,1019.21) scale(1.1019,1)" font-family='"Liberation Sans", sans-serif' font-weight="bold" font-size="29.73" fill="#000" >***</text>
<text transform="translate(1734.85,1097.90) scale(1.0954,1)" font-family='"Liberation Sans", sans-serif' font-weight="bold" font-size="27.03" fill="#000" >*</text>
<rect x="1452" y="776.75" width="44" height="24.25" fill="#fff" stroke="#000" stroke-width="5.5"/>
<rect x="1449.25" y="822.50" width="49.50" height="29.50" fill="#000" />
<text transform="translate(1520.32,800.76) scale(1.0453,1)" font-family='"Liberation Sans", sans-serif' font-weight="bold" font-size="32.09" fill="#000" >pcDNA3.1 plasmid</text>
<text transform="translate(1520.32,849.15) scale(1.0280,1)" font-family='"Liberation Sans", sans-serif' font-weight="bold" font-size="32.62" fill="#000" >miR-17-92 plasmid</text>
<text transform="translate(1329.60,1281.00) scale(1.0000,1) rotate(-45)" font-family='"Liberation Sans", sans-serif' font-weight="bold" font-size="33.50" text-anchor="end" fill="#000">G0-G1</text>
<text transform="translate(1536.00,1281.50) scale(1.0000,1) rotate(-45)" font-family='"Liberation Sans", sans-serif' font-weight="bold" font-size="33.50" text-anchor="end" fill="#000">S</text>
<text transform="translate(1740.40,1281.00) scale(1.0000,1) rotate(-45)" font-family='"Liberation Sans", sans-serif' font-weight="bold" font-size="33.50" text-anchor="end" fill="#000">G2-M</text>
</g>
</svg>
</body>
</html>
